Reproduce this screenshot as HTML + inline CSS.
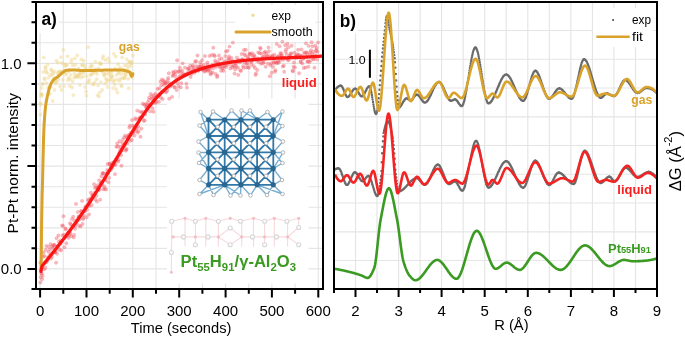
<!DOCTYPE html><html><head><meta charset="utf-8"><style>html,body{margin:0;padding:0;background:#fff;}body{width:685px;height:337px;overflow:hidden;position:relative;font-family:"Liberation Sans",sans-serif;}</style></head><body><svg width="685" height="337" viewBox="0 0 685 337" style="position:absolute;left:0;top:0;will-change:transform">
<rect width="685" height="337" fill="#fff"/>
<path d="M40.1 3V288M63.3 3V288M86.5 3V288M109.7 3V288M132.8 3V288M156.0 3V288M179.2 3V288M202.4 3V288M225.6 3V288M248.8 3V288M271.9 3V288M295.1 3V288M318.3 3V288M37 268.9H322M37 248.3H322M37 227.8H322M37 207.2H322M37 186.7H322M37 166.1H322M37 145.5H322M37 125.0H322M37 104.4H322M37 83.9H322M37 63.3H322M37 42.7H322M37 22.2H322M355.5 3V288M377.0 3V288M398.6 3V288M420.1 3V288M441.6 3V288M463.2 3V288M484.7 3V288M506.2 3V288M527.8 3V288M549.3 3V288M570.9 3V288M592.4 3V288M613.9 3V288M635.5 3V288M335 30.5H656M335 59.2H656M335 88.0H656M335 116.8H656M335 145.5H656M335 174.2H656M335 203.0H656M335 231.8H656M335 260.5H656" stroke="#e5e5e5" stroke-width="1.15" fill="none"/>
<g fill="#fff">
<rect x="37" y="3" width="22" height="30"/>
<rect x="235" y="5" width="80" height="37"/>
<rect x="167" y="98.5" width="141.5" height="185"/>
<rect x="335.5" y="3" width="22.5" height="30.5"/>
<rect x="593" y="8" width="60" height="39"/>
</g>
<path d="M200.5 112L208.5 119.7M200.5 112L208.5 136.0M213 111.5L208.5 119.7M213 111.5L224.7 119.7M231.5 110.5L224.7 119.7M231.5 110.5L240.9 119.7M241.5 110.5L240.9 119.7M241.5 110.5L257.1 119.7M250 110.5L257.1 119.7M250 110.5L240.9 119.7M267.5 112L273.3 119.7M267.5 112L257.1 119.7M282.5 111.5L273.3 119.7M282.5 111.5L273.3 136.0M199.5 125.5L208.5 119.7M199.5 125.5L208.5 136.0M198.5 141.5L208.5 136.0M198.5 141.5L208.5 152.3M198.5 152.5L208.5 152.3M198.5 152.5L208.5 168.6M199 163L208.5 168.6M199 163L208.5 152.3M199.5 180L208.5 184.9M199.5 180L208.5 168.6M199.5 194L208.5 184.9M199.5 194L224.7 184.9M213.5 195L208.5 184.9M213.5 195L224.7 184.9M230.5 195.5L224.7 184.9M230.5 195.5L240.9 184.9M240.5 195.5L240.9 184.9M240.5 195.5L224.7 184.9M250.5 195.5L257.1 184.9M250.5 195.5L240.9 184.9M267 195L273.3 184.9M267 195L257.1 184.9M282.5 194L273.3 184.9M282.5 194L257.1 184.9M282.5 126L273.3 119.7M282.5 126L273.3 136.0M283 141.5L273.3 136.0M283 141.5L273.3 152.3M283 152.5L273.3 152.3M283 152.5L273.3 168.6M282.5 163L273.3 168.6M282.5 163L273.3 152.3M282 180L273.3 184.9M282 180L273.3 168.6" stroke="#78aed2" stroke-width="1.4" fill="none"/>
<path d="M208.5 119.7H273.3M208.5 119.7V184.9M208.5 136.0H273.3M224.7 119.7V184.9M208.5 152.3H273.3M240.9 119.7V184.9M208.5 168.6H273.3M257.1 119.7V184.9M208.5 184.9H273.3M273.3 119.7V184.9M208.5 119.7L224.7 136.0M224.7 119.7L208.5 136.0M208.5 136.0L224.7 152.3M224.7 136.0L208.5 152.3M208.5 152.3L224.7 168.6M224.7 152.3L208.5 168.6M208.5 168.6L224.7 184.9M224.7 168.6L208.5 184.9M224.7 119.7L240.9 136.0M240.9 119.7L224.7 136.0M224.7 136.0L240.9 152.3M240.9 136.0L224.7 152.3M224.7 152.3L240.9 168.6M240.9 152.3L224.7 168.6M224.7 168.6L240.9 184.9M240.9 168.6L224.7 184.9M240.9 119.7L257.1 136.0M257.1 119.7L240.9 136.0M240.9 136.0L257.1 152.3M257.1 136.0L240.9 152.3M240.9 152.3L257.1 168.6M257.1 152.3L240.9 168.6M240.9 168.6L257.1 184.9M257.1 168.6L240.9 184.9M257.1 119.7L273.3 136.0M273.3 119.7L257.1 136.0M257.1 136.0L273.3 152.3M273.3 136.0L257.1 152.3M257.1 152.3L273.3 168.6M273.3 152.3L257.1 168.6M257.1 168.6L273.3 184.9M273.3 168.6L257.1 184.9" stroke="#3278a8" stroke-width="1.8" fill="none"/>
<circle cx="200.5" cy="112" r="1.8" fill="#fff" stroke="#a4a4a4" stroke-width="0.8"/>
<circle cx="213" cy="111.5" r="1.8" fill="#fff" stroke="#a4a4a4" stroke-width="0.8"/>
<circle cx="231.5" cy="110.5" r="1.8" fill="#fff" stroke="#a4a4a4" stroke-width="0.8"/>
<circle cx="241.5" cy="110.5" r="1.8" fill="#fff" stroke="#a4a4a4" stroke-width="0.8"/>
<circle cx="250" cy="110.5" r="1.8" fill="#fff" stroke="#a4a4a4" stroke-width="0.8"/>
<circle cx="267.5" cy="112" r="1.8" fill="#fff" stroke="#a4a4a4" stroke-width="0.8"/>
<circle cx="282.5" cy="111.5" r="1.8" fill="#fff" stroke="#a4a4a4" stroke-width="0.8"/>
<circle cx="199.5" cy="125.5" r="1.8" fill="#fff" stroke="#a4a4a4" stroke-width="0.8"/>
<circle cx="198.5" cy="141.5" r="1.8" fill="#fff" stroke="#a4a4a4" stroke-width="0.8"/>
<circle cx="198.5" cy="152.5" r="1.8" fill="#fff" stroke="#a4a4a4" stroke-width="0.8"/>
<circle cx="199" cy="163" r="1.8" fill="#fff" stroke="#a4a4a4" stroke-width="0.8"/>
<circle cx="199.5" cy="180" r="1.8" fill="#fff" stroke="#a4a4a4" stroke-width="0.8"/>
<circle cx="199.5" cy="194" r="1.8" fill="#fff" stroke="#a4a4a4" stroke-width="0.8"/>
<circle cx="213.5" cy="195" r="1.8" fill="#fff" stroke="#a4a4a4" stroke-width="0.8"/>
<circle cx="230.5" cy="195.5" r="1.8" fill="#fff" stroke="#a4a4a4" stroke-width="0.8"/>
<circle cx="240.5" cy="195.5" r="1.8" fill="#fff" stroke="#a4a4a4" stroke-width="0.8"/>
<circle cx="250.5" cy="195.5" r="1.8" fill="#fff" stroke="#a4a4a4" stroke-width="0.8"/>
<circle cx="267" cy="195" r="1.8" fill="#fff" stroke="#a4a4a4" stroke-width="0.8"/>
<circle cx="282.5" cy="194" r="1.8" fill="#fff" stroke="#a4a4a4" stroke-width="0.8"/>
<circle cx="282.5" cy="126" r="1.8" fill="#fff" stroke="#a4a4a4" stroke-width="0.8"/>
<circle cx="283" cy="141.5" r="1.8" fill="#fff" stroke="#a4a4a4" stroke-width="0.8"/>
<circle cx="283" cy="152.5" r="1.8" fill="#fff" stroke="#a4a4a4" stroke-width="0.8"/>
<circle cx="282.5" cy="163" r="1.8" fill="#fff" stroke="#a4a4a4" stroke-width="0.8"/>
<circle cx="282" cy="180" r="1.8" fill="#fff" stroke="#a4a4a4" stroke-width="0.8"/>
<circle cx="217.6" cy="126.8" r="1.8" fill="#fff" stroke="#a4a4a4" stroke-width="0.8"/>
<circle cx="217.6" cy="143.2" r="1.8" fill="#fff" stroke="#a4a4a4" stroke-width="0.8"/>
<circle cx="217.6" cy="159.4" r="1.8" fill="#fff" stroke="#a4a4a4" stroke-width="0.8"/>
<circle cx="217.6" cy="175.8" r="1.8" fill="#fff" stroke="#a4a4a4" stroke-width="0.8"/>
<circle cx="233.8" cy="126.8" r="1.8" fill="#fff" stroke="#a4a4a4" stroke-width="0.8"/>
<circle cx="233.8" cy="143.2" r="1.8" fill="#fff" stroke="#a4a4a4" stroke-width="0.8"/>
<circle cx="233.8" cy="159.4" r="1.8" fill="#fff" stroke="#a4a4a4" stroke-width="0.8"/>
<circle cx="233.8" cy="175.8" r="1.8" fill="#fff" stroke="#a4a4a4" stroke-width="0.8"/>
<circle cx="250.0" cy="126.8" r="1.8" fill="#fff" stroke="#a4a4a4" stroke-width="0.8"/>
<circle cx="250.0" cy="143.2" r="1.8" fill="#fff" stroke="#a4a4a4" stroke-width="0.8"/>
<circle cx="250.0" cy="159.4" r="1.8" fill="#fff" stroke="#a4a4a4" stroke-width="0.8"/>
<circle cx="250.0" cy="175.8" r="1.8" fill="#fff" stroke="#a4a4a4" stroke-width="0.8"/>
<circle cx="266.2" cy="126.8" r="1.8" fill="#fff" stroke="#a4a4a4" stroke-width="0.8"/>
<circle cx="266.2" cy="143.2" r="1.8" fill="#fff" stroke="#a4a4a4" stroke-width="0.8"/>
<circle cx="266.2" cy="159.4" r="1.8" fill="#fff" stroke="#a4a4a4" stroke-width="0.8"/>
<circle cx="266.2" cy="175.8" r="1.8" fill="#fff" stroke="#a4a4a4" stroke-width="0.8"/>
<circle cx="208.5" cy="119.7" r="2.3" fill="#2a6892" stroke="#22587e" stroke-width="0.5"/>
<circle cx="208.5" cy="136.0" r="2.3" fill="#2a6892" stroke="#22587e" stroke-width="0.5"/>
<circle cx="208.5" cy="152.3" r="2.3" fill="#2a6892" stroke="#22587e" stroke-width="0.5"/>
<circle cx="208.5" cy="168.6" r="2.3" fill="#2a6892" stroke="#22587e" stroke-width="0.5"/>
<circle cx="208.5" cy="184.9" r="2.3" fill="#2a6892" stroke="#22587e" stroke-width="0.5"/>
<circle cx="224.7" cy="119.7" r="2.3" fill="#2a6892" stroke="#22587e" stroke-width="0.5"/>
<circle cx="224.7" cy="136.0" r="2.3" fill="#2a6892" stroke="#22587e" stroke-width="0.5"/>
<circle cx="224.7" cy="152.3" r="2.3" fill="#2a6892" stroke="#22587e" stroke-width="0.5"/>
<circle cx="224.7" cy="168.6" r="2.3" fill="#2a6892" stroke="#22587e" stroke-width="0.5"/>
<circle cx="224.7" cy="184.9" r="2.3" fill="#2a6892" stroke="#22587e" stroke-width="0.5"/>
<circle cx="240.9" cy="119.7" r="2.3" fill="#2a6892" stroke="#22587e" stroke-width="0.5"/>
<circle cx="240.9" cy="136.0" r="2.3" fill="#2a6892" stroke="#22587e" stroke-width="0.5"/>
<circle cx="240.9" cy="152.3" r="2.3" fill="#2a6892" stroke="#22587e" stroke-width="0.5"/>
<circle cx="240.9" cy="168.6" r="2.3" fill="#2a6892" stroke="#22587e" stroke-width="0.5"/>
<circle cx="240.9" cy="184.9" r="2.3" fill="#2a6892" stroke="#22587e" stroke-width="0.5"/>
<circle cx="257.1" cy="119.7" r="2.3" fill="#2a6892" stroke="#22587e" stroke-width="0.5"/>
<circle cx="257.1" cy="136.0" r="2.3" fill="#2a6892" stroke="#22587e" stroke-width="0.5"/>
<circle cx="257.1" cy="152.3" r="2.3" fill="#2a6892" stroke="#22587e" stroke-width="0.5"/>
<circle cx="257.1" cy="168.6" r="2.3" fill="#2a6892" stroke="#22587e" stroke-width="0.5"/>
<circle cx="257.1" cy="184.9" r="2.3" fill="#2a6892" stroke="#22587e" stroke-width="0.5"/>
<circle cx="273.3" cy="119.7" r="2.3" fill="#2a6892" stroke="#22587e" stroke-width="0.5"/>
<circle cx="273.3" cy="136.0" r="2.3" fill="#2a6892" stroke="#22587e" stroke-width="0.5"/>
<circle cx="273.3" cy="152.3" r="2.3" fill="#2a6892" stroke="#22587e" stroke-width="0.5"/>
<circle cx="273.3" cy="168.6" r="2.3" fill="#2a6892" stroke="#22587e" stroke-width="0.5"/>
<circle cx="273.3" cy="184.9" r="2.3" fill="#2a6892" stroke="#22587e" stroke-width="0.5"/>
<path d="M171.7 221.3L185 218.3M185 218.3L195.4 221.3M195.4 221.3L205.8 218.3M205.8 218.3L218.4 221.3M218.4 221.3L230.2 218.3M230.2 218.3L240.5 221.3M240.5 221.3L253.5 218.3M253.5 218.3L264.6 221.3M264.6 221.3L274.3 218.3M274.3 218.3L286.9 221.3M286.9 221.3L298.7 218.3M173.2 236.9L183.5 236.9M183.5 236.9L195.4 236.9M195.4 236.9L208 236.9M208 236.9L218.4 236.9M241.7 236.9L252.5 236.9M252.5 236.9L264.6 236.9M264.6 236.9L276.5 236.9M276.5 236.9L287.6 236.9M171.7 219V246.5M185 219V246.5M195.4 219V246.5M205.8 219V246.5M218.4 219V246.5M241.7 219V246.5M253.5 219V246.5M264.6 219V246.5M274.3 219V246.5M287.6 219V246.5M218.4 236.9L230.2 228L241.7 236.9L230.2 244.7ZM171.4 246V272M287.6 236.9L298.7 227.5M287.6 236.9L298.7 244.7M298.7 218.3V227.5" stroke="#f7d9dc" stroke-width="1.1" fill="none"/>
<circle cx="185" cy="218.3" r="1.6" fill="#f2bfc4"/>
<circle cx="205.8" cy="218.3" r="1.6" fill="#f2bfc4"/>
<circle cx="230.2" cy="218.3" r="1.6" fill="#f2bfc4"/>
<circle cx="253.5" cy="218.3" r="1.6" fill="#f2bfc4"/>
<circle cx="274.3" cy="218.3" r="1.6" fill="#f2bfc4"/>
<circle cx="298.7" cy="218.3" r="1.6" fill="#f2bfc4"/>
<circle cx="173.2" cy="236.9" r="1.6" fill="#f2bfc4"/>
<circle cx="195.4" cy="236.9" r="1.6" fill="#f2bfc4"/>
<circle cx="218.4" cy="236.9" r="1.6" fill="#f2bfc4"/>
<circle cx="241.7" cy="236.9" r="1.6" fill="#f2bfc4"/>
<circle cx="264.6" cy="236.9" r="1.6" fill="#f2bfc4"/>
<circle cx="287.6" cy="236.9" r="1.6" fill="#f2bfc4"/>
<circle cx="171.4" cy="272.3" r="1.5" fill="#f2bfc4"/>
<circle cx="171.7" cy="221.3" r="2" fill="#fff" stroke="#d6d6d6" stroke-width="1.1"/>
<circle cx="195.4" cy="221.3" r="2" fill="#fff" stroke="#d6d6d6" stroke-width="1.1"/>
<circle cx="218.4" cy="221.3" r="2" fill="#fff" stroke="#d6d6d6" stroke-width="1.1"/>
<circle cx="240.5" cy="221.3" r="2" fill="#fff" stroke="#d6d6d6" stroke-width="1.1"/>
<circle cx="264.6" cy="221.3" r="2" fill="#fff" stroke="#d6d6d6" stroke-width="1.1"/>
<circle cx="286.9" cy="221.3" r="2" fill="#fff" stroke="#d6d6d6" stroke-width="1.1"/>
<circle cx="183.5" cy="236.9" r="2" fill="#fff" stroke="#d6d6d6" stroke-width="1.1"/>
<circle cx="208" cy="236.9" r="2" fill="#fff" stroke="#d6d6d6" stroke-width="1.1"/>
<circle cx="252.5" cy="236.9" r="2" fill="#fff" stroke="#d6d6d6" stroke-width="1.1"/>
<circle cx="276.5" cy="236.9" r="2" fill="#fff" stroke="#d6d6d6" stroke-width="1.1"/>
<circle cx="230.2" cy="228" r="2" fill="#fff" stroke="#d6d6d6" stroke-width="1.1"/>
<circle cx="230.2" cy="244.7" r="2" fill="#fff" stroke="#d6d6d6" stroke-width="1.1"/>
<circle cx="298.7" cy="227.5" r="2" fill="#fff" stroke="#d6d6d6" stroke-width="1.1"/>
<circle cx="298.7" cy="244.7" r="2" fill="#fff" stroke="#d6d6d6" stroke-width="1.1"/>
<circle cx="195.4" cy="244.7" r="2" fill="#fff" stroke="#d6d6d6" stroke-width="1.1"/>
<circle cx="264.6" cy="244.7" r="2" fill="#fff" stroke="#d6d6d6" stroke-width="1.1"/>
<circle cx="171.4" cy="252.5" r="2" fill="#fff" stroke="#d6d6d6" stroke-width="1.1"/>
<g fill="#eed68c" fill-opacity="0.48"><circle cx="40.6" cy="103.4" r="1.9"/><circle cx="41.0" cy="93.8" r="1.9"/><circle cx="41.5" cy="94.2" r="1.9"/><circle cx="42.0" cy="95.0" r="1.9"/><circle cx="42.4" cy="83.9" r="1.9"/><circle cx="42.9" cy="83.8" r="1.9"/><circle cx="43.3" cy="71.9" r="1.9"/><circle cx="43.8" cy="57.4" r="1.9"/><circle cx="44.3" cy="78.1" r="1.9"/><circle cx="44.7" cy="79.6" r="1.9"/><circle cx="45.2" cy="67.0" r="1.9"/><circle cx="45.7" cy="68.5" r="1.9"/><circle cx="46.1" cy="71.4" r="1.9"/><circle cx="46.6" cy="83.1" r="1.9"/><circle cx="47.1" cy="72.9" r="1.9"/><circle cx="47.5" cy="64.7" r="1.9"/><circle cx="48.0" cy="87.8" r="1.9"/><circle cx="48.4" cy="77.7" r="1.9"/><circle cx="48.9" cy="94.1" r="1.9"/><circle cx="49.4" cy="87.1" r="1.9"/><circle cx="49.8" cy="93.4" r="1.9"/><circle cx="50.3" cy="75.2" r="1.9"/><circle cx="50.8" cy="86.9" r="1.9"/><circle cx="51.2" cy="69.5" r="1.9"/><circle cx="51.7" cy="70.8" r="1.9"/><circle cx="52.2" cy="74.7" r="1.9"/><circle cx="52.6" cy="101.0" r="1.9"/><circle cx="53.1" cy="78.6" r="1.9"/><circle cx="53.5" cy="73.1" r="1.9"/><circle cx="54.0" cy="71.3" r="1.9"/><circle cx="54.5" cy="89.9" r="1.9"/><circle cx="54.9" cy="78.0" r="1.9"/><circle cx="55.4" cy="83.6" r="1.9"/><circle cx="55.9" cy="81.7" r="1.9"/><circle cx="56.3" cy="60.6" r="1.9"/><circle cx="56.8" cy="81.7" r="1.9"/><circle cx="57.3" cy="72.9" r="1.9"/><circle cx="57.7" cy="62.6" r="1.9"/><circle cx="58.2" cy="79.2" r="1.9"/><circle cx="58.6" cy="73.8" r="1.9"/><circle cx="59.1" cy="71.3" r="1.9"/><circle cx="59.6" cy="71.8" r="1.9"/><circle cx="60.0" cy="86.4" r="1.9"/><circle cx="60.5" cy="71.7" r="1.9"/><circle cx="61.0" cy="57.2" r="1.9"/><circle cx="61.4" cy="90.0" r="1.9"/><circle cx="61.9" cy="62.8" r="1.9"/><circle cx="62.4" cy="71.2" r="1.9"/><circle cx="62.8" cy="79.8" r="1.9"/><circle cx="63.3" cy="49.9" r="1.9"/><circle cx="63.7" cy="63.9" r="1.9"/><circle cx="64.2" cy="86.1" r="1.9"/><circle cx="64.7" cy="71.7" r="1.9"/><circle cx="65.1" cy="66.0" r="1.9"/><circle cx="65.6" cy="74.7" r="1.9"/><circle cx="66.1" cy="64.8" r="1.9"/><circle cx="66.5" cy="73.3" r="1.9"/><circle cx="67.0" cy="65.0" r="1.9"/><circle cx="67.5" cy="56.3" r="1.9"/><circle cx="67.9" cy="80.2" r="1.9"/><circle cx="68.4" cy="70.3" r="1.9"/><circle cx="68.8" cy="77.8" r="1.9"/><circle cx="69.3" cy="71.1" r="1.9"/><circle cx="69.8" cy="86.0" r="1.9"/><circle cx="70.2" cy="79.1" r="1.9"/><circle cx="70.7" cy="74.8" r="1.9"/><circle cx="71.2" cy="62.4" r="1.9"/><circle cx="71.6" cy="59.6" r="1.9"/><circle cx="72.1" cy="87.5" r="1.9"/><circle cx="72.6" cy="81.5" r="1.9"/><circle cx="73.0" cy="65.2" r="1.9"/><circle cx="73.5" cy="95.1" r="1.9"/><circle cx="74.0" cy="77.8" r="1.9"/><circle cx="74.4" cy="73.7" r="1.9"/><circle cx="74.9" cy="58.3" r="1.9"/><circle cx="75.3" cy="64.8" r="1.9"/><circle cx="75.8" cy="76.3" r="1.9"/><circle cx="76.3" cy="76.7" r="1.9"/><circle cx="76.7" cy="75.4" r="1.9"/><circle cx="77.2" cy="55.3" r="1.9"/><circle cx="77.7" cy="77.4" r="1.9"/><circle cx="78.1" cy="76.0" r="1.9"/><circle cx="78.6" cy="68.6" r="1.9"/><circle cx="79.1" cy="73.9" r="1.9"/><circle cx="79.5" cy="74.8" r="1.9"/><circle cx="80.0" cy="85.1" r="1.9"/><circle cx="80.4" cy="72.7" r="1.9"/><circle cx="80.9" cy="77.6" r="1.9"/><circle cx="81.4" cy="59.4" r="1.9"/><circle cx="81.8" cy="65.2" r="1.9"/><circle cx="82.3" cy="72.8" r="1.9"/><circle cx="82.8" cy="65.0" r="1.9"/><circle cx="83.2" cy="76.4" r="1.9"/><circle cx="83.7" cy="60.7" r="1.9"/><circle cx="84.2" cy="72.6" r="1.9"/><circle cx="84.6" cy="66.0" r="1.9"/><circle cx="85.1" cy="87.1" r="1.9"/><circle cx="85.5" cy="68.6" r="1.9"/><circle cx="86.0" cy="91.6" r="1.9"/><circle cx="86.5" cy="95.6" r="1.9"/><circle cx="86.9" cy="76.0" r="1.9"/><circle cx="87.4" cy="82.7" r="1.9"/><circle cx="87.9" cy="70.7" r="1.9"/><circle cx="88.3" cy="47.2" r="1.9"/><circle cx="88.8" cy="82.0" r="1.9"/><circle cx="89.3" cy="79.6" r="1.9"/><circle cx="89.7" cy="70.2" r="1.9"/><circle cx="90.2" cy="67.0" r="1.9"/><circle cx="90.6" cy="74.5" r="1.9"/><circle cx="91.1" cy="74.9" r="1.9"/><circle cx="91.6" cy="64.6" r="1.9"/><circle cx="92.0" cy="66.7" r="1.9"/><circle cx="92.5" cy="84.2" r="1.9"/><circle cx="93.0" cy="73.4" r="1.9"/><circle cx="93.4" cy="72.2" r="1.9"/><circle cx="93.9" cy="84.5" r="1.9"/><circle cx="94.4" cy="69.6" r="1.9"/><circle cx="94.8" cy="82.3" r="1.9"/><circle cx="95.3" cy="61.6" r="1.9"/><circle cx="95.7" cy="70.4" r="1.9"/><circle cx="96.2" cy="71.5" r="1.9"/><circle cx="96.7" cy="79.2" r="1.9"/><circle cx="97.1" cy="73.9" r="1.9"/><circle cx="97.6" cy="95.1" r="1.9"/><circle cx="98.1" cy="85.3" r="1.9"/><circle cx="98.5" cy="68.4" r="1.9"/><circle cx="99.0" cy="96.6" r="1.9"/><circle cx="99.5" cy="63.0" r="1.9"/><circle cx="99.9" cy="92.3" r="1.9"/><circle cx="100.4" cy="64.0" r="1.9"/><circle cx="100.8" cy="82.1" r="1.9"/><circle cx="101.3" cy="63.7" r="1.9"/><circle cx="101.8" cy="71.1" r="1.9"/><circle cx="102.2" cy="89.9" r="1.9"/><circle cx="102.7" cy="58.4" r="1.9"/><circle cx="103.2" cy="56.2" r="1.9"/><circle cx="103.6" cy="73.3" r="1.9"/><circle cx="104.1" cy="75.6" r="1.9"/><circle cx="104.6" cy="74.4" r="1.9"/><circle cx="105.0" cy="83.6" r="1.9"/><circle cx="105.5" cy="60.1" r="1.9"/><circle cx="105.9" cy="78.7" r="1.9"/><circle cx="106.4" cy="73.1" r="1.9"/><circle cx="106.9" cy="81.5" r="1.9"/><circle cx="107.3" cy="79.6" r="1.9"/><circle cx="107.8" cy="87.0" r="1.9"/><circle cx="108.3" cy="58.3" r="1.9"/><circle cx="108.7" cy="74.3" r="1.9"/><circle cx="109.2" cy="61.6" r="1.9"/><circle cx="109.7" cy="72.4" r="1.9"/><circle cx="110.1" cy="80.4" r="1.9"/><circle cx="110.6" cy="76.2" r="1.9"/><circle cx="111.0" cy="78.9" r="1.9"/><circle cx="111.5" cy="72.5" r="1.9"/><circle cx="112.0" cy="76.8" r="1.9"/><circle cx="112.4" cy="75.9" r="1.9"/><circle cx="112.9" cy="88.1" r="1.9"/><circle cx="113.4" cy="81.7" r="1.9"/><circle cx="113.8" cy="53.8" r="1.9"/><circle cx="114.3" cy="80.1" r="1.9"/><circle cx="114.8" cy="84.5" r="1.9"/><circle cx="115.2" cy="68.7" r="1.9"/><circle cx="115.7" cy="56.6" r="1.9"/><circle cx="116.1" cy="89.0" r="1.9"/><circle cx="116.6" cy="74.9" r="1.9"/><circle cx="117.1" cy="79.7" r="1.9"/><circle cx="117.5" cy="92.5" r="1.9"/><circle cx="118.0" cy="64.2" r="1.9"/><circle cx="118.5" cy="72.8" r="1.9"/><circle cx="118.9" cy="71.7" r="1.9"/><circle cx="119.4" cy="81.1" r="1.9"/><circle cx="119.9" cy="67.4" r="1.9"/><circle cx="120.3" cy="78.7" r="1.9"/><circle cx="120.8" cy="74.2" r="1.9"/><circle cx="121.2" cy="85.1" r="1.9"/><circle cx="121.7" cy="86.3" r="1.9"/><circle cx="122.2" cy="57.4" r="1.9"/><circle cx="122.6" cy="78.3" r="1.9"/><circle cx="123.1" cy="69.3" r="1.9"/><circle cx="123.6" cy="72.9" r="1.9"/><circle cx="124.0" cy="77.5" r="1.9"/><circle cx="124.5" cy="78.3" r="1.9"/><circle cx="125.0" cy="65.4" r="1.9"/><circle cx="125.4" cy="76.0" r="1.9"/><circle cx="125.9" cy="74.3" r="1.9"/><circle cx="126.3" cy="72.3" r="1.9"/><circle cx="126.8" cy="59.2" r="1.9"/><circle cx="127.3" cy="64.9" r="1.9"/><circle cx="127.7" cy="68.2" r="1.9"/><circle cx="128.2" cy="78.9" r="1.9"/><circle cx="128.7" cy="88.2" r="1.9"/><circle cx="129.1" cy="61.8" r="1.9"/><circle cx="129.6" cy="61.6" r="1.9"/><circle cx="130.1" cy="74.1" r="1.9"/><circle cx="130.5" cy="66.4" r="1.9"/><circle cx="131.0" cy="63.7" r="1.9"/><circle cx="131.4" cy="63.2" r="1.9"/><circle cx="131.9" cy="62.1" r="1.9"/><circle cx="132.4" cy="77.7" r="1.9"/><circle cx="132.8" cy="55.4" r="1.9"/><circle cx="40.6" cy="104.4" r="1.9"/><circle cx="41.0" cy="96.2" r="1.9"/><circle cx="41.5" cy="88.0" r="1.9"/><circle cx="40.3" cy="114.7" r="1.9"/></g>
<g fill="#f05a66" fill-opacity="0.42" stroke="#e84452" stroke-opacity="0.3" stroke-width="0.5"><circle cx="40.3" cy="262.6" r="1.7"/><circle cx="40.8" cy="277.3" r="1.7"/><circle cx="41.3" cy="273.1" r="1.7"/><circle cx="41.7" cy="273.8" r="1.7"/><circle cx="42.2" cy="279.2" r="1.7"/><circle cx="42.7" cy="275.8" r="1.7"/><circle cx="43.1" cy="256.8" r="1.7"/><circle cx="43.6" cy="252.4" r="1.7"/><circle cx="44.0" cy="269.4" r="1.7"/><circle cx="44.5" cy="256.0" r="1.7"/><circle cx="45.0" cy="262.4" r="1.7"/><circle cx="45.4" cy="267.8" r="1.7"/><circle cx="45.9" cy="249.9" r="1.7"/><circle cx="46.4" cy="246.0" r="1.7"/><circle cx="46.8" cy="262.0" r="1.7"/><circle cx="47.3" cy="260.0" r="1.7"/><circle cx="47.8" cy="257.4" r="1.7"/><circle cx="48.2" cy="258.8" r="1.7"/><circle cx="48.7" cy="251.9" r="1.7"/><circle cx="49.1" cy="246.8" r="1.7"/><circle cx="49.6" cy="255.6" r="1.7"/><circle cx="50.1" cy="249.4" r="1.7"/><circle cx="50.5" cy="244.1" r="1.7"/><circle cx="51.0" cy="258.6" r="1.7"/><circle cx="51.5" cy="254.0" r="1.7"/><circle cx="51.9" cy="256.7" r="1.7"/><circle cx="52.4" cy="246.4" r="1.7"/><circle cx="52.9" cy="248.1" r="1.7"/><circle cx="53.3" cy="245.1" r="1.7"/><circle cx="53.8" cy="245.3" r="1.7"/><circle cx="54.2" cy="252.3" r="1.7"/><circle cx="54.7" cy="244.9" r="1.7"/><circle cx="55.2" cy="252.3" r="1.7"/><circle cx="55.6" cy="251.6" r="1.7"/><circle cx="56.1" cy="262.8" r="1.7"/><circle cx="56.6" cy="238.3" r="1.7"/><circle cx="57.0" cy="253.7" r="1.7"/><circle cx="57.5" cy="246.2" r="1.7"/><circle cx="58.0" cy="246.2" r="1.7"/><circle cx="58.4" cy="235.5" r="1.7"/><circle cx="58.9" cy="241.8" r="1.7"/><circle cx="59.3" cy="249.7" r="1.7"/><circle cx="59.8" cy="243.3" r="1.7"/><circle cx="60.3" cy="243.8" r="1.7"/><circle cx="60.7" cy="240.6" r="1.7"/><circle cx="61.2" cy="250.2" r="1.7"/><circle cx="61.7" cy="241.3" r="1.7"/><circle cx="62.1" cy="225.5" r="1.7"/><circle cx="62.6" cy="235.4" r="1.7"/><circle cx="63.1" cy="225.9" r="1.7"/><circle cx="63.5" cy="216.3" r="1.7"/><circle cx="64.0" cy="234.7" r="1.7"/><circle cx="64.4" cy="247.2" r="1.7"/><circle cx="64.9" cy="237.6" r="1.7"/><circle cx="65.4" cy="228.4" r="1.7"/><circle cx="65.8" cy="229.4" r="1.7"/><circle cx="66.3" cy="243.3" r="1.7"/><circle cx="66.8" cy="235.9" r="1.7"/><circle cx="67.2" cy="234.5" r="1.7"/><circle cx="67.7" cy="233.2" r="1.7"/><circle cx="68.2" cy="233.2" r="1.7"/><circle cx="68.6" cy="237.9" r="1.7"/><circle cx="69.1" cy="235.5" r="1.7"/><circle cx="69.5" cy="232.6" r="1.7"/><circle cx="70.0" cy="223.1" r="1.7"/><circle cx="70.5" cy="233.4" r="1.7"/><circle cx="70.9" cy="224.4" r="1.7"/><circle cx="71.4" cy="236.2" r="1.7"/><circle cx="71.9" cy="219.0" r="1.7"/><circle cx="72.3" cy="226.3" r="1.7"/><circle cx="72.8" cy="226.6" r="1.7"/><circle cx="73.3" cy="216.7" r="1.7"/><circle cx="73.7" cy="237.4" r="1.7"/><circle cx="74.2" cy="234.9" r="1.7"/><circle cx="74.6" cy="220.8" r="1.7"/><circle cx="75.1" cy="228.8" r="1.7"/><circle cx="75.6" cy="225.4" r="1.7"/><circle cx="76.0" cy="203.9" r="1.7"/><circle cx="76.5" cy="223.3" r="1.7"/><circle cx="77.0" cy="220.4" r="1.7"/><circle cx="77.4" cy="220.8" r="1.7"/><circle cx="77.9" cy="212.0" r="1.7"/><circle cx="78.4" cy="217.0" r="1.7"/><circle cx="78.8" cy="217.0" r="1.7"/><circle cx="79.3" cy="225.9" r="1.7"/><circle cx="79.7" cy="219.2" r="1.7"/><circle cx="80.2" cy="216.2" r="1.7"/><circle cx="80.7" cy="226.3" r="1.7"/><circle cx="81.1" cy="211.0" r="1.7"/><circle cx="81.6" cy="211.5" r="1.7"/><circle cx="82.1" cy="200.9" r="1.7"/><circle cx="82.5" cy="223.9" r="1.7"/><circle cx="83.0" cy="219.0" r="1.7"/><circle cx="83.5" cy="218.0" r="1.7"/><circle cx="83.9" cy="215.6" r="1.7"/><circle cx="84.4" cy="211.0" r="1.7"/><circle cx="84.8" cy="211.0" r="1.7"/><circle cx="85.3" cy="207.1" r="1.7"/><circle cx="85.8" cy="206.7" r="1.7"/><circle cx="86.2" cy="207.8" r="1.7"/><circle cx="86.7" cy="217.3" r="1.7"/><circle cx="87.2" cy="209.9" r="1.7"/><circle cx="87.6" cy="205.0" r="1.7"/><circle cx="88.1" cy="200.6" r="1.7"/><circle cx="88.6" cy="199.5" r="1.7"/><circle cx="89.0" cy="214.5" r="1.7"/><circle cx="89.5" cy="206.1" r="1.7"/><circle cx="89.9" cy="202.3" r="1.7"/><circle cx="90.4" cy="198.7" r="1.7"/><circle cx="90.9" cy="192.7" r="1.7"/><circle cx="91.3" cy="199.2" r="1.7"/><circle cx="91.8" cy="205.1" r="1.7"/><circle cx="92.3" cy="195.5" r="1.7"/><circle cx="92.7" cy="196.0" r="1.7"/><circle cx="93.2" cy="195.3" r="1.7"/><circle cx="93.7" cy="196.9" r="1.7"/><circle cx="94.1" cy="184.2" r="1.7"/><circle cx="94.6" cy="193.0" r="1.7"/><circle cx="95.0" cy="187.9" r="1.7"/><circle cx="95.5" cy="199.4" r="1.7"/><circle cx="96.0" cy="187.1" r="1.7"/><circle cx="96.4" cy="195.8" r="1.7"/><circle cx="96.9" cy="201.6" r="1.7"/><circle cx="97.4" cy="188.0" r="1.7"/><circle cx="97.8" cy="185.3" r="1.7"/><circle cx="98.3" cy="190.1" r="1.7"/><circle cx="98.8" cy="188.0" r="1.7"/><circle cx="99.2" cy="180.3" r="1.7"/><circle cx="99.7" cy="189.7" r="1.7"/><circle cx="100.1" cy="199.8" r="1.7"/><circle cx="100.6" cy="183.2" r="1.7"/><circle cx="101.1" cy="182.8" r="1.7"/><circle cx="101.5" cy="176.2" r="1.7"/><circle cx="102.0" cy="184.9" r="1.7"/><circle cx="102.5" cy="173.2" r="1.7"/><circle cx="102.9" cy="173.4" r="1.7"/><circle cx="103.4" cy="189.4" r="1.7"/><circle cx="103.9" cy="173.3" r="1.7"/><circle cx="104.3" cy="186.5" r="1.7"/><circle cx="104.8" cy="188.8" r="1.7"/><circle cx="105.2" cy="179.2" r="1.7"/><circle cx="105.7" cy="180.5" r="1.7"/><circle cx="106.2" cy="189.5" r="1.7"/><circle cx="106.6" cy="173.7" r="1.7"/><circle cx="107.1" cy="170.1" r="1.7"/><circle cx="107.6" cy="164.0" r="1.7"/><circle cx="108.0" cy="173.0" r="1.7"/><circle cx="108.5" cy="182.3" r="1.7"/><circle cx="109.0" cy="177.9" r="1.7"/><circle cx="109.4" cy="163.8" r="1.7"/><circle cx="109.9" cy="163.6" r="1.7"/><circle cx="110.4" cy="165.3" r="1.7"/><circle cx="110.8" cy="170.1" r="1.7"/><circle cx="111.3" cy="165.8" r="1.7"/><circle cx="111.7" cy="168.0" r="1.7"/><circle cx="112.2" cy="167.8" r="1.7"/><circle cx="112.7" cy="162.8" r="1.7"/><circle cx="113.1" cy="163.9" r="1.7"/><circle cx="113.6" cy="164.8" r="1.7"/><circle cx="114.1" cy="162.0" r="1.7"/><circle cx="114.5" cy="165.3" r="1.7"/><circle cx="115.0" cy="174.1" r="1.7"/><circle cx="115.5" cy="164.4" r="1.7"/><circle cx="115.9" cy="159.8" r="1.7"/><circle cx="116.4" cy="146.8" r="1.7"/><circle cx="116.8" cy="160.6" r="1.7"/><circle cx="117.3" cy="143.4" r="1.7"/><circle cx="117.8" cy="146.4" r="1.7"/><circle cx="118.2" cy="161.5" r="1.7"/><circle cx="118.7" cy="159.6" r="1.7"/><circle cx="119.2" cy="152.9" r="1.7"/><circle cx="119.6" cy="141.2" r="1.7"/><circle cx="120.1" cy="149.7" r="1.7"/><circle cx="120.6" cy="146.8" r="1.7"/><circle cx="121.0" cy="155.2" r="1.7"/><circle cx="121.5" cy="165.8" r="1.7"/><circle cx="121.9" cy="150.7" r="1.7"/><circle cx="122.4" cy="142.9" r="1.7"/><circle cx="122.9" cy="139.4" r="1.7"/><circle cx="123.3" cy="146.4" r="1.7"/><circle cx="123.8" cy="144.8" r="1.7"/><circle cx="124.3" cy="137.2" r="1.7"/><circle cx="124.7" cy="145.3" r="1.7"/><circle cx="125.2" cy="135.6" r="1.7"/><circle cx="125.7" cy="150.7" r="1.7"/><circle cx="126.1" cy="149.6" r="1.7"/><circle cx="126.6" cy="148.9" r="1.7"/><circle cx="127.0" cy="137.2" r="1.7"/><circle cx="127.5" cy="143.4" r="1.7"/><circle cx="128.0" cy="138.1" r="1.7"/><circle cx="128.4" cy="135.5" r="1.7"/><circle cx="128.9" cy="135.1" r="1.7"/><circle cx="129.4" cy="127.6" r="1.7"/><circle cx="129.8" cy="125.8" r="1.7"/><circle cx="130.3" cy="140.7" r="1.7"/><circle cx="130.8" cy="133.0" r="1.7"/><circle cx="131.2" cy="135.1" r="1.7"/><circle cx="131.7" cy="139.9" r="1.7"/><circle cx="132.1" cy="120.0" r="1.7"/><circle cx="132.6" cy="125.8" r="1.7"/><circle cx="133.1" cy="131.8" r="1.7"/><circle cx="133.5" cy="132.6" r="1.7"/><circle cx="134.0" cy="126.4" r="1.7"/><circle cx="134.5" cy="135.5" r="1.7"/><circle cx="134.9" cy="129.0" r="1.7"/><circle cx="135.4" cy="118.3" r="1.7"/><circle cx="135.9" cy="119.6" r="1.7"/><circle cx="136.3" cy="131.0" r="1.7"/><circle cx="136.8" cy="127.9" r="1.7"/><circle cx="137.2" cy="110.6" r="1.7"/><circle cx="137.7" cy="132.6" r="1.7"/><circle cx="138.2" cy="126.6" r="1.7"/><circle cx="138.6" cy="131.1" r="1.7"/><circle cx="139.1" cy="118.3" r="1.7"/><circle cx="139.6" cy="118.2" r="1.7"/><circle cx="140.0" cy="111.7" r="1.7"/><circle cx="140.5" cy="136.7" r="1.7"/><circle cx="141.0" cy="117.0" r="1.7"/><circle cx="141.4" cy="128.6" r="1.7"/><circle cx="141.9" cy="112.3" r="1.7"/><circle cx="142.3" cy="117.3" r="1.7"/><circle cx="142.8" cy="103.7" r="1.7"/><circle cx="143.3" cy="112.1" r="1.7"/><circle cx="143.7" cy="121.0" r="1.7"/><circle cx="144.2" cy="104.7" r="1.7"/><circle cx="144.7" cy="120.3" r="1.7"/><circle cx="145.1" cy="114.5" r="1.7"/><circle cx="145.6" cy="104.2" r="1.7"/><circle cx="146.1" cy="107.3" r="1.7"/><circle cx="146.5" cy="107.0" r="1.7"/><circle cx="147.0" cy="109.2" r="1.7"/><circle cx="147.4" cy="105.2" r="1.7"/><circle cx="147.9" cy="102.5" r="1.7"/><circle cx="148.4" cy="105.5" r="1.7"/><circle cx="148.8" cy="99.9" r="1.7"/><circle cx="149.3" cy="97.4" r="1.7"/><circle cx="149.8" cy="105.5" r="1.7"/><circle cx="150.2" cy="111.4" r="1.7"/><circle cx="150.7" cy="94.0" r="1.7"/><circle cx="151.2" cy="104.1" r="1.7"/><circle cx="151.6" cy="99.0" r="1.7"/><circle cx="152.1" cy="96.1" r="1.7"/><circle cx="152.5" cy="108.3" r="1.7"/><circle cx="153.0" cy="98.2" r="1.7"/><circle cx="153.5" cy="111.7" r="1.7"/><circle cx="153.9" cy="95.3" r="1.7"/><circle cx="154.4" cy="102.9" r="1.7"/><circle cx="154.9" cy="98.0" r="1.7"/><circle cx="155.3" cy="93.8" r="1.7"/><circle cx="155.8" cy="102.7" r="1.7"/><circle cx="156.3" cy="97.0" r="1.7"/><circle cx="156.7" cy="101.8" r="1.7"/><circle cx="157.2" cy="96.7" r="1.7"/><circle cx="157.6" cy="88.9" r="1.7"/><circle cx="158.1" cy="95.3" r="1.7"/><circle cx="158.6" cy="95.9" r="1.7"/><circle cx="159.0" cy="101.8" r="1.7"/><circle cx="159.5" cy="88.2" r="1.7"/><circle cx="160.0" cy="93.8" r="1.7"/><circle cx="160.4" cy="81.6" r="1.7"/><circle cx="160.9" cy="97.7" r="1.7"/><circle cx="161.4" cy="85.2" r="1.7"/><circle cx="161.8" cy="79.6" r="1.7"/><circle cx="162.3" cy="91.4" r="1.7"/><circle cx="162.7" cy="99.1" r="1.7"/><circle cx="163.2" cy="80.3" r="1.7"/><circle cx="163.7" cy="82.9" r="1.7"/><circle cx="164.1" cy="84.9" r="1.7"/><circle cx="164.6" cy="81.8" r="1.7"/><circle cx="165.1" cy="91.9" r="1.7"/><circle cx="165.5" cy="83.2" r="1.7"/><circle cx="166.0" cy="83.4" r="1.7"/><circle cx="166.5" cy="92.1" r="1.7"/><circle cx="166.9" cy="82.3" r="1.7"/><circle cx="167.4" cy="90.3" r="1.7"/><circle cx="167.8" cy="80.0" r="1.7"/><circle cx="168.3" cy="78.0" r="1.7"/><circle cx="168.8" cy="73.2" r="1.7"/><circle cx="169.2" cy="98.7" r="1.7"/><circle cx="169.7" cy="83.1" r="1.7"/><circle cx="170.2" cy="86.7" r="1.7"/><circle cx="170.6" cy="84.4" r="1.7"/><circle cx="171.1" cy="85.4" r="1.7"/><circle cx="171.6" cy="84.2" r="1.7"/><circle cx="172.0" cy="96.9" r="1.7"/><circle cx="172.5" cy="75.9" r="1.7"/><circle cx="173.0" cy="72.0" r="1.7"/><circle cx="173.4" cy="75.4" r="1.7"/><circle cx="173.9" cy="72.9" r="1.7"/><circle cx="174.3" cy="87.1" r="1.7"/><circle cx="174.8" cy="87.3" r="1.7"/><circle cx="175.3" cy="74.5" r="1.7"/><circle cx="175.7" cy="71.2" r="1.7"/><circle cx="176.2" cy="78.1" r="1.7"/><circle cx="176.7" cy="90.0" r="1.7"/><circle cx="177.1" cy="60.3" r="1.7"/><circle cx="177.6" cy="83.4" r="1.7"/><circle cx="178.1" cy="71.9" r="1.7"/><circle cx="178.5" cy="86.4" r="1.7"/><circle cx="179.0" cy="71.3" r="1.7"/><circle cx="179.4" cy="76.5" r="1.7"/><circle cx="179.9" cy="67.7" r="1.7"/><circle cx="180.4" cy="71.1" r="1.7"/><circle cx="180.8" cy="87.4" r="1.7"/><circle cx="181.3" cy="83.2" r="1.7"/><circle cx="181.8" cy="74.4" r="1.7"/><circle cx="182.2" cy="70.8" r="1.7"/><circle cx="182.7" cy="63.4" r="1.7"/><circle cx="183.2" cy="73.7" r="1.7"/><circle cx="183.6" cy="75.9" r="1.7"/><circle cx="184.1" cy="75.3" r="1.7"/><circle cx="184.5" cy="75.0" r="1.7"/><circle cx="185.0" cy="67.6" r="1.7"/><circle cx="185.5" cy="74.7" r="1.7"/><circle cx="185.9" cy="74.7" r="1.7"/><circle cx="186.4" cy="83.8" r="1.7"/><circle cx="186.9" cy="87.6" r="1.7"/><circle cx="187.3" cy="73.3" r="1.7"/><circle cx="187.8" cy="68.7" r="1.7"/><circle cx="188.3" cy="73.4" r="1.7"/><circle cx="188.7" cy="69.4" r="1.7"/><circle cx="189.2" cy="68.2" r="1.7"/><circle cx="189.6" cy="72.8" r="1.7"/><circle cx="190.1" cy="65.7" r="1.7"/><circle cx="190.6" cy="77.0" r="1.7"/><circle cx="191.0" cy="71.9" r="1.7"/><circle cx="191.5" cy="74.1" r="1.7"/><circle cx="192.0" cy="70.9" r="1.7"/><circle cx="192.4" cy="66.9" r="1.7"/><circle cx="192.9" cy="65.2" r="1.7"/><circle cx="193.4" cy="70.0" r="1.7"/><circle cx="193.8" cy="67.6" r="1.7"/><circle cx="194.3" cy="72.9" r="1.7"/><circle cx="194.7" cy="71.0" r="1.7"/><circle cx="195.2" cy="61.4" r="1.7"/><circle cx="195.7" cy="71.2" r="1.7"/><circle cx="196.1" cy="61.2" r="1.7"/><circle cx="196.6" cy="66.1" r="1.7"/><circle cx="197.1" cy="68.2" r="1.7"/><circle cx="197.5" cy="55.5" r="1.7"/><circle cx="198.0" cy="70.5" r="1.7"/><circle cx="198.5" cy="70.8" r="1.7"/><circle cx="198.9" cy="68.5" r="1.7"/><circle cx="199.4" cy="66.4" r="1.7"/><circle cx="199.8" cy="66.6" r="1.7"/><circle cx="200.3" cy="62.3" r="1.7"/><circle cx="200.8" cy="67.1" r="1.7"/><circle cx="201.2" cy="64.9" r="1.7"/><circle cx="201.7" cy="69.3" r="1.7"/><circle cx="202.2" cy="60.1" r="1.7"/><circle cx="202.6" cy="70.0" r="1.7"/><circle cx="203.1" cy="69.2" r="1.7"/><circle cx="203.6" cy="67.1" r="1.7"/><circle cx="204.0" cy="64.9" r="1.7"/><circle cx="204.5" cy="71.7" r="1.7"/><circle cx="204.9" cy="56.0" r="1.7"/><circle cx="205.4" cy="70.8" r="1.7"/><circle cx="205.9" cy="69.1" r="1.7"/><circle cx="206.3" cy="69.3" r="1.7"/><circle cx="206.8" cy="69.9" r="1.7"/><circle cx="207.3" cy="62.5" r="1.7"/><circle cx="207.7" cy="65.1" r="1.7"/><circle cx="208.2" cy="71.3" r="1.7"/><circle cx="208.7" cy="69.7" r="1.7"/><circle cx="209.1" cy="68.0" r="1.7"/><circle cx="209.6" cy="55.9" r="1.7"/><circle cx="210.0" cy="70.1" r="1.7"/><circle cx="210.5" cy="74.4" r="1.7"/><circle cx="211.0" cy="73.2" r="1.7"/><circle cx="211.4" cy="67.6" r="1.7"/><circle cx="211.9" cy="55.0" r="1.7"/><circle cx="212.4" cy="72.4" r="1.7"/><circle cx="212.8" cy="64.6" r="1.7"/><circle cx="213.3" cy="47.8" r="1.7"/><circle cx="213.8" cy="68.1" r="1.7"/><circle cx="214.2" cy="54.9" r="1.7"/><circle cx="214.7" cy="56.2" r="1.7"/><circle cx="215.1" cy="60.7" r="1.7"/><circle cx="215.6" cy="73.9" r="1.7"/><circle cx="216.1" cy="62.3" r="1.7"/><circle cx="216.5" cy="66.7" r="1.7"/><circle cx="217.0" cy="77.0" r="1.7"/><circle cx="217.5" cy="75.8" r="1.7"/><circle cx="217.9" cy="63.8" r="1.7"/><circle cx="218.4" cy="62.7" r="1.7"/><circle cx="218.9" cy="55.5" r="1.7"/><circle cx="219.3" cy="59.4" r="1.7"/><circle cx="219.8" cy="67.1" r="1.7"/><circle cx="220.2" cy="66.8" r="1.7"/><circle cx="220.7" cy="64.7" r="1.7"/><circle cx="221.2" cy="70.8" r="1.7"/><circle cx="221.6" cy="58.4" r="1.7"/><circle cx="222.1" cy="63.3" r="1.7"/><circle cx="222.6" cy="68.7" r="1.7"/><circle cx="223.0" cy="67.6" r="1.7"/><circle cx="223.5" cy="70.9" r="1.7"/><circle cx="224.0" cy="66.1" r="1.7"/><circle cx="224.4" cy="61.1" r="1.7"/><circle cx="224.9" cy="65.7" r="1.7"/><circle cx="225.3" cy="56.1" r="1.7"/><circle cx="225.8" cy="51.5" r="1.7"/><circle cx="226.3" cy="67.0" r="1.7"/><circle cx="226.7" cy="62.5" r="1.7"/><circle cx="227.2" cy="64.9" r="1.7"/><circle cx="227.7" cy="50.8" r="1.7"/><circle cx="228.1" cy="60.1" r="1.7"/><circle cx="228.6" cy="58.4" r="1.7"/><circle cx="229.1" cy="56.4" r="1.7"/><circle cx="229.5" cy="46.6" r="1.7"/><circle cx="230.0" cy="60.0" r="1.7"/><circle cx="230.4" cy="68.5" r="1.7"/><circle cx="230.9" cy="64.9" r="1.7"/><circle cx="231.4" cy="57.9" r="1.7"/><circle cx="231.8" cy="61.9" r="1.7"/><circle cx="232.3" cy="67.3" r="1.7"/><circle cx="232.8" cy="42.6" r="1.7"/><circle cx="233.2" cy="61.0" r="1.7"/><circle cx="233.7" cy="65.6" r="1.7"/><circle cx="234.2" cy="66.5" r="1.7"/><circle cx="234.6" cy="73.6" r="1.7"/><circle cx="235.1" cy="69.5" r="1.7"/><circle cx="235.5" cy="63.7" r="1.7"/><circle cx="236.0" cy="63.6" r="1.7"/><circle cx="236.5" cy="66.9" r="1.7"/><circle cx="236.9" cy="57.6" r="1.7"/><circle cx="237.4" cy="61.0" r="1.7"/><circle cx="237.9" cy="67.6" r="1.7"/><circle cx="238.3" cy="74.9" r="1.7"/><circle cx="238.8" cy="60.0" r="1.7"/><circle cx="239.3" cy="60.7" r="1.7"/><circle cx="239.7" cy="62.4" r="1.7"/><circle cx="240.2" cy="70.3" r="1.7"/><circle cx="240.7" cy="60.7" r="1.7"/><circle cx="241.1" cy="71.1" r="1.7"/><circle cx="241.6" cy="54.0" r="1.7"/><circle cx="242.0" cy="59.4" r="1.7"/><circle cx="242.5" cy="59.3" r="1.7"/><circle cx="243.0" cy="66.1" r="1.7"/><circle cx="243.4" cy="67.9" r="1.7"/><circle cx="243.9" cy="49.9" r="1.7"/><circle cx="244.4" cy="54.1" r="1.7"/><circle cx="244.8" cy="62.8" r="1.7"/><circle cx="245.3" cy="55.7" r="1.7"/><circle cx="245.8" cy="49.7" r="1.7"/><circle cx="246.2" cy="67.5" r="1.7"/><circle cx="246.7" cy="63.7" r="1.7"/><circle cx="247.1" cy="63.6" r="1.7"/><circle cx="247.6" cy="56.8" r="1.7"/><circle cx="248.1" cy="67.3" r="1.7"/><circle cx="248.5" cy="58.4" r="1.7"/><circle cx="249.0" cy="67.7" r="1.7"/><circle cx="249.5" cy="53.6" r="1.7"/><circle cx="249.9" cy="53.9" r="1.7"/><circle cx="250.4" cy="61.3" r="1.7"/><circle cx="250.9" cy="54.9" r="1.7"/><circle cx="251.3" cy="64.5" r="1.7"/><circle cx="251.8" cy="61.6" r="1.7"/><circle cx="252.2" cy="53.2" r="1.7"/><circle cx="252.7" cy="60.2" r="1.7"/><circle cx="253.2" cy="57.2" r="1.7"/><circle cx="253.6" cy="66.0" r="1.7"/><circle cx="254.1" cy="55.1" r="1.7"/><circle cx="254.6" cy="56.4" r="1.7"/><circle cx="255.0" cy="68.0" r="1.7"/><circle cx="255.5" cy="75.1" r="1.7"/><circle cx="256.0" cy="73.4" r="1.7"/><circle cx="256.4" cy="59.8" r="1.7"/><circle cx="256.9" cy="60.9" r="1.7"/><circle cx="257.3" cy="70.0" r="1.7"/><circle cx="257.8" cy="58.4" r="1.7"/><circle cx="258.3" cy="52.4" r="1.7"/><circle cx="258.7" cy="60.0" r="1.7"/><circle cx="259.2" cy="62.3" r="1.7"/><circle cx="259.7" cy="53.3" r="1.7"/><circle cx="260.1" cy="47.6" r="1.7"/><circle cx="260.6" cy="49.0" r="1.7"/><circle cx="261.1" cy="63.7" r="1.7"/><circle cx="261.5" cy="53.7" r="1.7"/><circle cx="262.0" cy="58.0" r="1.7"/><circle cx="262.4" cy="60.4" r="1.7"/><circle cx="262.9" cy="63.3" r="1.7"/><circle cx="263.4" cy="56.6" r="1.7"/><circle cx="263.8" cy="62.4" r="1.7"/><circle cx="264.3" cy="52.6" r="1.7"/><circle cx="264.8" cy="56.3" r="1.7"/><circle cx="265.2" cy="51.6" r="1.7"/><circle cx="265.7" cy="66.7" r="1.7"/><circle cx="266.2" cy="58.5" r="1.7"/><circle cx="266.6" cy="53.5" r="1.7"/><circle cx="267.1" cy="56.2" r="1.7"/><circle cx="267.5" cy="57.1" r="1.7"/><circle cx="268.0" cy="63.5" r="1.7"/><circle cx="268.5" cy="47.4" r="1.7"/><circle cx="268.9" cy="51.3" r="1.7"/><circle cx="269.4" cy="55.9" r="1.7"/><circle cx="269.9" cy="76.3" r="1.7"/><circle cx="270.3" cy="65.2" r="1.7"/><circle cx="270.8" cy="57.7" r="1.7"/><circle cx="271.3" cy="63.5" r="1.7"/><circle cx="271.7" cy="72.8" r="1.7"/><circle cx="272.2" cy="56.8" r="1.7"/><circle cx="272.6" cy="55.8" r="1.7"/><circle cx="273.1" cy="66.9" r="1.7"/><circle cx="273.6" cy="61.8" r="1.7"/><circle cx="274.0" cy="63.0" r="1.7"/><circle cx="274.5" cy="54.8" r="1.7"/><circle cx="275.0" cy="71.8" r="1.7"/><circle cx="275.4" cy="70.2" r="1.7"/><circle cx="275.9" cy="62.2" r="1.7"/><circle cx="276.4" cy="63.0" r="1.7"/><circle cx="276.8" cy="44.0" r="1.7"/><circle cx="277.3" cy="62.7" r="1.7"/><circle cx="277.7" cy="56.8" r="1.7"/><circle cx="278.2" cy="61.2" r="1.7"/><circle cx="278.7" cy="62.9" r="1.7"/><circle cx="279.1" cy="55.7" r="1.7"/><circle cx="279.6" cy="46.3" r="1.7"/><circle cx="280.1" cy="60.6" r="1.7"/><circle cx="280.5" cy="52.9" r="1.7"/><circle cx="281.0" cy="55.7" r="1.7"/><circle cx="281.5" cy="53.8" r="1.7"/><circle cx="281.9" cy="55.6" r="1.7"/><circle cx="282.4" cy="41.8" r="1.7"/><circle cx="282.8" cy="66.5" r="1.7"/><circle cx="283.3" cy="59.7" r="1.7"/><circle cx="283.8" cy="65.7" r="1.7"/><circle cx="284.2" cy="71.8" r="1.7"/><circle cx="284.7" cy="58.0" r="1.7"/><circle cx="285.2" cy="45.3" r="1.7"/><circle cx="285.6" cy="51.6" r="1.7"/><circle cx="286.1" cy="49.4" r="1.7"/><circle cx="286.6" cy="54.3" r="1.7"/><circle cx="287.0" cy="58.4" r="1.7"/><circle cx="287.5" cy="43.8" r="1.7"/><circle cx="287.9" cy="60.2" r="1.7"/><circle cx="288.4" cy="47.2" r="1.7"/><circle cx="288.9" cy="59.8" r="1.7"/><circle cx="289.3" cy="56.9" r="1.7"/><circle cx="289.8" cy="55.5" r="1.7"/><circle cx="290.3" cy="57.2" r="1.7"/><circle cx="290.7" cy="53.9" r="1.7"/><circle cx="291.2" cy="53.3" r="1.7"/><circle cx="291.7" cy="45.8" r="1.7"/><circle cx="292.1" cy="57.4" r="1.7"/><circle cx="292.6" cy="70.5" r="1.7"/><circle cx="293.0" cy="71.4" r="1.7"/><circle cx="293.5" cy="66.8" r="1.7"/><circle cx="294.0" cy="62.5" r="1.7"/><circle cx="294.4" cy="52.8" r="1.7"/><circle cx="294.9" cy="67.6" r="1.7"/><circle cx="295.4" cy="57.1" r="1.7"/><circle cx="295.8" cy="57.0" r="1.7"/><circle cx="296.3" cy="55.4" r="1.7"/><circle cx="296.8" cy="58.1" r="1.7"/><circle cx="297.2" cy="54.4" r="1.7"/><circle cx="297.7" cy="56.8" r="1.7"/><circle cx="298.1" cy="49.8" r="1.7"/><circle cx="298.6" cy="54.7" r="1.7"/><circle cx="299.1" cy="73.3" r="1.7"/><circle cx="299.5" cy="56.8" r="1.7"/><circle cx="300.0" cy="55.6" r="1.7"/><circle cx="300.5" cy="61.0" r="1.7"/><circle cx="300.9" cy="62.2" r="1.7"/><circle cx="301.4" cy="49.4" r="1.7"/><circle cx="301.9" cy="55.8" r="1.7"/><circle cx="302.3" cy="63.6" r="1.7"/><circle cx="302.8" cy="59.1" r="1.7"/><circle cx="303.2" cy="58.0" r="1.7"/><circle cx="303.7" cy="68.0" r="1.7"/><circle cx="304.2" cy="52.4" r="1.7"/><circle cx="304.6" cy="57.7" r="1.7"/><circle cx="305.1" cy="53.4" r="1.7"/><circle cx="305.6" cy="67.5" r="1.7"/><circle cx="306.0" cy="43.4" r="1.7"/><circle cx="306.5" cy="52.3" r="1.7"/><circle cx="307.0" cy="53.3" r="1.7"/><circle cx="307.4" cy="61.6" r="1.7"/><circle cx="307.9" cy="61.2" r="1.7"/><circle cx="308.4" cy="66.7" r="1.7"/><circle cx="308.8" cy="45.9" r="1.7"/><circle cx="309.3" cy="62.1" r="1.7"/><circle cx="309.7" cy="54.8" r="1.7"/><circle cx="310.2" cy="52.2" r="1.7"/><circle cx="310.7" cy="60.6" r="1.7"/><circle cx="311.1" cy="50.3" r="1.7"/><circle cx="311.6" cy="42.2" r="1.7"/><circle cx="312.1" cy="54.1" r="1.7"/><circle cx="312.5" cy="46.2" r="1.7"/><circle cx="313.0" cy="52.1" r="1.7"/><circle cx="313.5" cy="59.2" r="1.7"/><circle cx="313.9" cy="58.8" r="1.7"/><circle cx="314.4" cy="67.7" r="1.7"/><circle cx="314.8" cy="55.2" r="1.7"/><circle cx="315.3" cy="45.8" r="1.7"/><circle cx="315.8" cy="51.2" r="1.7"/><circle cx="316.2" cy="50.0" r="1.7"/><circle cx="316.7" cy="47.9" r="1.7"/><circle cx="317.2" cy="59.5" r="1.7"/><circle cx="317.6" cy="51.9" r="1.7"/><circle cx="318.1" cy="42.5" r="1.7"/><circle cx="40.4" cy="282.5" r="1.7"/></g>
<path d="M41.1 269.6L41.6 222.0L42.1 196.6L42.6 179.0L43.1 156.5L43.6 136.9L44.1 124.7L44.6 117.1L45.1 111.1L45.6 106.3L46.1 102.6L46.6 99.9L47.1 97.5L47.6 95.1L48.1 92.9L48.6 90.9L49.1 89.1L49.6 87.5L50.1 86.0L50.6 84.7L51.1 83.7L51.6 82.7L52.1 81.9L52.6 81.1L53.1 80.5L53.6 79.9L54.1 79.4L54.6 79.0L55.1 78.6L55.6 78.3L56.1 77.9L56.6 77.6L57.1 77.3L57.6 76.9L58.1 76.5L58.6 76.1L59.1 75.7L59.6 75.2L60.1 74.8L60.6 74.3L61.1 73.9L61.6 73.4L62.1 73.0L62.6 72.6L63.1 72.2L63.6 71.8L64.1 71.4L64.6 71.0L65.1 70.7L65.6 70.5L66.1 70.4L66.6 70.3L67.1 70.3L67.6 70.2L68.1 70.2L68.6 70.1L69.1 70.1L69.6 70.1L70.1 70.0L70.6 70.0L71.1 70.0L71.6 70.0L72.1 70.0L72.6 70.0L73.1 70.0L73.6 70.0L74.1 70.0L74.6 70.1L75.1 70.1L75.6 70.1L76.1 70.1L76.6 70.2L77.1 70.2L77.6 70.2L78.1 70.3L78.6 70.3L79.1 70.3L79.6 70.4L80.1 70.4L80.6 70.4L81.1 70.5L81.6 70.5L82.1 70.5L82.6 70.5L83.1 70.6L83.6 70.6L84.1 70.6L84.6 70.6L85.1 70.6L85.6 70.6L86.1 70.6L86.6 70.6L87.1 70.6L87.6 70.6L88.1 70.6L88.6 70.6L89.1 70.6L89.6 70.5L90.1 70.5L90.6 70.5L91.1 70.5L91.6 70.5L92.1 70.5L92.6 70.4L93.1 70.4L93.6 70.4L94.1 70.4L94.6 70.4L95.1 70.4L95.6 70.3L96.1 70.3L96.6 70.3L97.1 70.3L97.6 70.3L98.1 70.3L98.6 70.2L99.1 70.2L99.6 70.2L100.1 70.2L100.6 70.2L101.1 70.2L101.6 70.2L102.1 70.2L102.6 70.2L103.1 70.2L103.6 70.1L104.1 70.1L104.6 70.1L105.1 70.1L105.6 70.1L106.1 70.1L106.6 70.1L107.1 70.1L107.6 70.1L108.1 70.1L108.6 70.1L109.1 70.1L109.6 70.0L110.1 70.0L110.6 70.0L111.1 70.0L111.6 70.0L112.1 70.0L112.6 70.0L113.1 70.0L113.6 70.0L114.1 70.0L114.6 70.0L115.1 70.0L115.6 70.0L116.1 70.0L116.6 70.0L117.1 70.0L117.6 70.0L118.1 70.0L118.6 70.0L119.1 70.0L119.6 70.1L120.1 70.1L120.6 70.1L121.1 70.1L121.6 70.1L122.1 70.1L122.6 70.2L123.1 70.2L123.6 70.2L124.1 70.3L124.6 70.4L125.1 70.6L125.6 70.7L126.1 70.9L126.6 71.0L127.1 71.2L127.6 71.3L128.1 71.4L128.6 71.6L129.1 71.8L129.6 72.0L130.1 72.3L130.6 73.4L131.1 75.8L131.6 76.4L132.1 75.8L132.6 74.8L132.9 73.8" stroke="#d9a22b" stroke-width="3" fill="none" stroke-linejoin="round" stroke-linecap="round"/>
<path d="M40.9 271.3L41.5 268.5L42.2 266.0L43.1 264.8L43.6 264.2L44.1 263.6L44.6 263.0L45.1 262.4L45.6 261.7L46.1 261.1L46.6 260.5L47.1 259.9L47.6 259.3L48.1 258.6L48.6 258.0L49.1 257.4L49.6 256.8L50.1 256.2L50.6 255.5L51.1 254.9L51.6 254.3L52.1 253.7L52.6 253.0L53.1 252.4L53.6 251.8L54.1 251.1L54.6 250.5L55.1 249.9L55.6 249.2L56.1 248.6L56.6 248.0L57.1 247.3L57.6 246.7L58.1 246.1L58.6 245.4L59.1 244.8L59.6 244.1L60.1 243.5L60.6 242.8L61.1 242.2L61.6 241.6L62.1 240.9L62.6 240.3L63.1 239.6L63.6 238.9L64.1 238.3L64.6 237.6L65.1 237.0L65.6 236.3L66.1 235.7L66.6 235.0L67.1 234.3L67.6 233.7L68.1 233.0L68.6 232.3L69.1 231.6L69.6 231.0L70.1 230.3L70.6 229.6L71.1 228.9L71.6 228.3L72.1 227.6L72.6 226.9L73.1 226.2L73.6 225.5L74.1 224.8L74.6 224.1L75.1 223.5L75.6 222.8L76.1 222.1L76.6 221.4L77.1 220.7L77.6 220.0L78.1 219.2L78.6 218.5L79.1 217.8L79.6 217.1L80.1 216.4L80.6 215.7L81.1 215.0L81.6 214.2L82.1 213.5L82.6 212.8L83.1 212.1L83.6 211.3L84.1 210.6L84.6 209.9L85.1 209.1L85.6 208.4L86.1 207.6L86.6 206.9L87.1 206.2L87.6 205.4L88.1 204.7L88.6 203.9L89.1 203.1L89.6 202.4L90.1 201.6L90.6 200.9L91.1 200.1L91.6 199.3L92.1 198.5L92.6 197.8L93.1 197.0L93.6 196.2L94.1 195.4L94.6 194.6L95.1 193.8L95.6 193.0L96.1 192.3L96.6 191.5L97.1 190.7L97.6 189.9L98.1 189.1L98.6 188.2L99.1 187.4L99.6 186.6L100.1 185.8L100.6 185.0L101.1 184.2L101.6 183.4L102.1 182.6L102.6 181.7L103.1 180.9L103.6 180.1L104.1 179.3L104.6 178.4L105.1 177.6L105.6 176.8L106.1 175.9L106.6 175.1L107.1 174.3L107.6 173.4L108.1 172.6L108.6 171.8L109.1 170.9L109.6 170.1L110.1 169.3L110.6 168.4L111.1 167.6L111.6 166.7L112.1 165.9L112.6 165.0L113.1 164.2L113.6 163.4L114.1 162.5L114.6 161.7L115.1 160.8L115.6 160.0L116.1 159.1L116.6 158.3L117.1 157.4L117.6 156.6L118.1 155.7L118.6 154.9L119.1 154.0L119.6 153.2L120.1 152.3L120.6 151.5L121.1 150.6L121.6 149.8L122.1 148.9L122.6 148.1L123.1 147.2L123.6 146.4L124.1 145.5L124.6 144.7L125.1 143.8L125.6 143.0L126.1 142.2L126.6 141.3L127.1 140.5L127.6 139.6L128.1 138.8L128.6 138.0L129.1 137.1L129.6 136.3L130.1 135.5L130.6 134.6L131.1 133.8L131.6 133.0L132.1 132.2L132.6 131.3L133.1 130.5L133.6 129.7L134.1 128.9L134.6 128.1L135.1 127.3L135.6 126.5L136.1 125.7L136.6 124.9L137.1 124.1L137.6 123.3L138.1 122.6L138.6 121.8L139.1 121.0L139.6 120.2L140.1 119.5L140.6 118.7L141.1 118.0L141.6 117.2L142.1 116.5L142.6 115.8L143.1 115.0L143.6 114.3L144.1 113.6L144.6 112.9L145.1 112.2L145.6 111.4L146.1 110.8L146.6 110.1L147.1 109.4L147.6 108.7L148.1 108.0L148.6 107.4L149.1 106.7L149.6 106.1L150.1 105.4L150.6 104.8L151.1 104.1L151.6 103.5L152.1 102.9L152.6 102.3L153.1 101.7L153.6 101.1L154.1 100.5L154.6 99.9L155.1 99.4L155.6 98.8L156.1 98.2L156.6 97.7L157.1 97.1L157.6 96.6L158.1 96.1L158.6 95.5L159.1 95.0L159.6 94.5L160.1 94.0L160.6 93.5L161.1 93.0L161.6 92.5L162.1 92.0L162.6 91.5L163.1 91.1L163.6 90.6L164.1 90.1L164.6 89.7L165.1 89.2L165.6 88.8L166.1 88.3L166.6 87.9L167.1 87.5L167.6 87.0L168.1 86.6L168.6 86.2L169.1 85.8L169.6 85.4L170.1 85.0L170.6 84.6L171.1 84.2L171.6 83.9L172.1 83.5L172.6 83.1L173.1 82.8L173.6 82.4L174.1 82.0L174.6 81.7L175.1 81.3L175.6 81.0L176.1 80.7L176.6 80.3L177.1 80.0L177.6 79.7L178.1 79.4L178.6 79.1L179.1 78.8L179.6 78.4L180.1 78.1L180.6 77.9L181.1 77.6L181.6 77.3L182.1 77.0L182.6 76.7L183.1 76.4L183.6 76.2L184.1 75.9L184.6 75.6L185.1 75.4L185.6 75.1L186.1 74.9L186.6 74.6L187.1 74.4L187.6 74.1L188.1 73.9L188.6 73.7L189.1 73.4L189.6 73.2L190.1 73.0L190.6 72.8L191.1 72.6L191.6 72.3L192.1 72.1L192.6 71.9L193.1 71.7L193.6 71.5L194.1 71.3L194.6 71.1L195.1 70.9L195.6 70.8L196.1 70.6L196.6 70.4L197.1 70.2L197.6 70.0L198.1 69.9L198.6 69.7L199.1 69.5L199.6 69.3L200.1 69.2L200.6 69.0L201.1 68.9L201.6 68.7L202.1 68.5L202.6 68.4L203.1 68.2L203.6 68.1L204.1 67.9L204.6 67.8L205.1 67.7L205.6 67.5L206.1 67.4L206.6 67.2L207.1 67.1L207.6 67.0L208.1 66.8L208.6 66.7L209.1 66.6L209.6 66.5L210.1 66.3L210.6 66.2L211.1 66.1L211.6 66.0L212.1 65.8L212.6 65.7L213.1 65.6L213.6 65.5L214.1 65.4L214.6 65.3L215.1 65.1L215.6 65.0L216.1 64.9L216.6 64.8L217.1 64.7L217.6 64.6L218.1 64.5L218.6 64.4L219.1 64.3L219.6 64.2L220.1 64.1L220.6 64.0L221.1 63.9L221.6 63.8L222.1 63.7L222.6 63.6L223.1 63.5L223.6 63.4L224.1 63.3L224.6 63.2L225.1 63.1L225.6 63.1L226.1 63.0L226.6 62.9L227.1 62.8L227.6 62.7L228.1 62.6L228.6 62.6L229.1 62.5L229.6 62.4L230.1 62.3L230.6 62.2L231.1 62.2L231.6 62.1L232.1 62.0L232.6 61.9L233.1 61.9L233.6 61.8L234.1 61.7L234.6 61.7L235.1 61.6L235.6 61.5L236.1 61.4L236.6 61.4L237.1 61.3L237.6 61.2L238.1 61.2L238.6 61.1L239.1 61.1L239.6 61.0L240.1 60.9L240.6 60.9L241.1 60.8L241.6 60.8L242.1 60.7L242.6 60.6L243.1 60.6L243.6 60.5L244.1 60.5L244.6 60.4L245.1 60.4L245.6 60.3L246.1 60.3L246.6 60.2L247.1 60.2L247.6 60.1L248.1 60.1L248.6 60.0L249.1 60.0L249.6 59.9L250.1 59.9L250.6 59.8L251.1 59.8L251.6 59.8L252.1 59.7L252.6 59.7L253.1 59.6L253.6 59.6L254.1 59.6L254.6 59.5L255.1 59.5L255.6 59.4L256.1 59.4L256.6 59.4L257.1 59.3L257.6 59.3L258.1 59.2L258.6 59.2L259.1 59.2L259.6 59.1L260.1 59.1L260.6 59.1L261.1 59.0L261.6 59.0L262.1 59.0L262.6 58.9L263.1 58.9L263.6 58.9L264.1 58.9L264.6 58.8L265.1 58.8L265.6 58.8L266.1 58.7L266.6 58.7L267.1 58.7L267.6 58.7L268.1 58.6L268.6 58.6L269.1 58.6L269.6 58.5L270.1 58.5L270.6 58.5L271.1 58.5L271.6 58.4L272.1 58.4L272.6 58.4L273.1 58.4L273.6 58.4L274.1 58.3L274.6 58.3L275.1 58.3L275.6 58.3L276.1 58.2L276.6 58.2L277.1 58.2L277.6 58.2L278.1 58.2L278.6 58.1L279.1 58.1L279.6 58.1L280.1 58.1L280.6 58.0L281.1 58.0L281.6 58.0L282.1 58.0L282.6 58.0L283.1 57.9L283.6 57.9L284.1 57.9L284.6 57.9L285.1 57.9L285.6 57.9L286.1 57.8L286.6 57.8L287.1 57.8L287.6 57.8L288.1 57.8L288.6 57.7L289.1 57.7L289.6 57.7L290.1 57.7L290.6 57.7L291.1 57.6L291.6 57.6L292.1 57.6L292.6 57.6L293.1 57.6L293.6 57.5L294.1 57.5L294.6 57.5L295.1 57.5L295.6 57.5L296.1 57.4L296.6 57.4L297.1 57.4L297.6 57.4L298.1 57.4L298.6 57.3L299.1 57.3L299.6 57.3L300.1 57.3L300.6 57.3L301.1 57.2L301.6 57.2L302.1 57.2L302.6 57.2L303.1 57.2L303.6 57.1L304.1 57.1L304.6 57.1L305.1 57.1L305.6 57.0L306.1 57.0L306.6 57.0L307.1 57.0L307.6 57.0L308.1 56.9L308.6 56.9L309.1 56.9L309.6 56.9L310.1 56.8L310.6 56.8L311.1 56.8L311.6 56.7L312.1 56.7L312.6 56.7L313.1 56.7L313.6 56.6L314.1 56.6L314.6 56.6L315.1 56.5L315.6 56.5L316.1 56.5L316.6 56.5L317.1 56.4L317.6 56.4L318.1 56.4L318.6 56.3L319.1 56.3L319.6 56.3L320.1 56.2L320.6 56.2L321.1 56.2L321.6 56.1" stroke="#fb1616" stroke-width="3.3" fill="none" stroke-linejoin="round" stroke-linecap="round"/>
<path d="M335.0 91.0h0M335.4 90.2h0M335.8 89.5h0M336.1 88.9h0M336.5 88.3h0M336.9 87.8h0M337.3 87.4h0M337.7 87.0h0M338.0 86.7h0M338.4 86.4h0M338.8 86.2h0M339.2 86.0h0M339.6 85.9h0M339.9 85.8h0M340.3 85.7h0M340.7 85.7h0M341.1 85.7h0M341.5 85.9h0M341.8 86.3h0M342.2 86.9h0M342.6 87.6h0M343.0 88.4h0M343.4 89.2h0M343.7 90.2h0M344.1 91.1h0M344.5 92.1h0M344.9 93.1h0M345.3 94.0h0M345.6 94.8h0M346.0 95.6h0M346.4 96.2h0M346.8 96.6h0M347.2 96.9h0M347.5 97.0h0M347.9 96.9h0M348.3 96.7h0M348.7 96.5h0M349.1 96.1h0M349.4 95.7h0M349.8 95.2h0M350.2 94.6h0M350.6 94.0h0M351.0 93.4h0M351.3 92.8h0M351.7 92.2h0M352.1 91.6h0M352.5 91.0h0M352.9 90.5h0M353.2 90.0h0M353.6 89.5h0M354.0 89.1h0M354.4 88.9h0M354.8 88.7h0M355.1 88.6h0M355.5 88.7h0M355.9 88.9h0M356.3 89.2h0M356.7 89.6h0M357.0 90.1h0M357.4 90.7h0M357.8 91.3h0M358.2 92.0h0M358.6 92.7h0M358.9 93.4h0M359.3 94.0h0M359.7 94.6h0M360.1 95.2h0M360.5 95.7h0M360.8 96.0h0M361.2 96.3h0M361.6 96.4h0M362.0 96.4h0M362.4 96.2h0M362.7 95.9h0M363.1 95.5h0M363.5 95.0h0M363.9 94.4h0M364.3 93.8h0M364.6 93.1h0M365.0 92.4h0M365.4 91.6h0M365.8 90.9h0M366.2 90.2h0M366.5 89.4h0M366.9 88.8h0M367.3 88.1h0M367.7 87.6h0M368.1 87.1h0M368.4 86.7h0M368.8 86.5h0M369.2 86.3h0M369.6 86.4h0M370.0 86.9h0M370.3 87.8h0M370.7 89.2h0M371.1 90.9h0M371.5 92.8h0M371.9 95.0h0M372.2 97.3h0M372.6 99.6h0M373.0 102.0h0M373.4 104.4h0M373.8 106.6h0M374.1 108.6h0M374.5 110.4h0M374.9 111.9h0M375.3 113.1h0M375.7 113.8h0M376.0 114.0h0M376.4 113.5h0M376.8 112.4h0M377.2 110.6h0M377.6 108.2h0M377.9 105.3h0M378.3 101.9h0M378.7 98.2h0M379.1 94.1h0M379.5 89.7h0M379.8 85.1h0M380.2 80.4h0M380.6 75.6h0M381.0 70.8h0M381.4 66.0h0M381.7 61.3h0M382.1 56.8h0M382.5 52.5h0M382.9 48.5h0M383.3 44.9h0M383.6 41.6h0M384.0 38.0h0M384.4 34.2h0M384.8 30.4h0M385.2 26.6h0M385.5 23.1h0M385.9 20.2h0M386.3 17.8h0M386.7 16.4h0M387.1 16.0h0M387.4 16.7h0M387.8 18.1h0M388.2 20.2h0M388.6 22.6h0M389.0 25.1h0M389.3 27.5h0M389.7 29.6h0M390.1 31.6h0M390.5 33.5h0M390.9 35.3h0M391.2 37.1h0M391.6 39.0h0M392.0 40.9h0M392.4 42.8h0M392.8 44.9h0M393.1 47.2h0M393.5 49.6h0M393.9 52.2h0M394.3 55.1h0M394.7 58.3h0M395.0 62.3h0M395.4 67.6h0M395.8 73.9h0M396.2 80.4h0M396.6 86.6h0M396.9 92.0h0M397.3 96.2h0M397.7 100.3h0M398.1 104.0h0M398.5 106.6h0M398.8 107.5h0M399.2 107.4h0M399.6 107.2h0M400.0 106.9h0M400.4 106.5h0M400.7 106.1h0M401.1 105.5h0M401.5 104.9h0M401.9 104.3h0M402.3 103.6h0M402.6 103.0h0M403.0 102.3h0M403.4 101.6h0M403.8 101.0h0M404.2 100.4h0M404.5 99.9h0M404.9 99.4h0M405.3 99.0h0M405.7 98.7h0M406.1 98.5h0M406.4 98.4h0M406.8 98.4h0M407.2 98.5h0M407.6 98.7h0M408.0 98.9h0M408.3 99.2h0M408.7 99.4h0M409.1 99.7h0M409.5 100.0h0M409.9 100.2h0M410.2 100.3h0M410.6 100.4h0M411.0 100.4h0M411.4 100.2h0M411.8 100.0h0M412.1 99.6h0M412.5 99.2h0M412.9 98.7h0M413.3 98.1h0M413.7 97.6h0M414.0 97.0h0M414.4 96.5h0M414.8 95.9h0M415.2 95.5h0M415.6 95.1h0M415.9 94.8h0M416.3 94.6h0M416.7 94.5h0M417.1 94.6h0M417.5 94.7h0M417.8 94.9h0M418.2 95.2h0M418.6 95.6h0M419.0 96.0h0M419.4 96.5h0M419.7 97.0h0M420.1 97.6h0M420.5 98.1h0M420.9 98.7h0M421.3 99.2h0M421.6 99.8h0M422.0 100.3h0M422.4 100.8h0M422.8 101.3h0M423.2 101.7h0M423.5 102.0h0M423.9 102.3h0M424.3 102.5h0M424.7 102.6h0M425.1 102.6h0M425.4 102.5h0M425.8 102.3h0M426.2 102.1h0M426.6 101.8h0M427.0 101.4h0M427.3 101.0h0M427.7 100.5h0M428.1 99.9h0M428.5 99.3h0M428.9 98.6h0M429.2 97.9h0M429.6 97.2h0M430.0 96.5h0M430.4 95.7h0M430.8 94.9h0M431.1 94.1h0M431.5 93.2h0M431.9 92.4h0M432.3 91.6h0M432.7 90.7h0M433.0 89.9h0M433.4 89.1h0M433.8 88.3h0M434.2 87.6h0M434.6 86.8h0M434.9 86.1h0M435.3 85.5h0M435.7 84.9h0M436.1 84.3h0M436.5 83.8h0M436.8 83.3h0M437.2 82.9h0M437.6 82.6h0M438.0 82.3h0M438.4 82.1h0M438.7 82.0h0M439.1 82.0h0M439.5 82.1h0M439.9 82.3h0M440.3 82.6h0M440.6 83.0h0M441.0 83.4h0M441.4 84.0h0M441.8 84.6h0M442.2 85.2h0M442.5 85.9h0M442.9 86.7h0M443.3 87.5h0M443.7 88.3h0M444.1 89.2h0M444.4 90.1h0M444.8 91.0h0M445.2 91.9h0M445.6 92.8h0M446.0 93.6h0M446.3 94.5h0M446.7 95.3h0M447.1 96.1h0M447.5 96.9h0M447.9 97.6h0M448.2 98.3h0M448.6 98.9h0M449.0 99.4h0M449.4 99.9h0M449.8 100.2h0M450.1 100.5h0M450.5 100.7h0M450.9 100.8h0M451.3 100.8h0M451.7 100.7h0M452.0 100.6h0M452.4 100.4h0M452.8 100.2h0M453.2 100.0h0M453.6 99.8h0M453.9 99.6h0M454.3 99.5h0M454.7 99.4h0M455.1 99.4h0M455.5 99.5h0M455.8 99.7h0M456.2 100.0h0M456.6 100.4h0M457.0 100.8h0M457.4 101.3h0M457.7 101.8h0M458.1 102.4h0M458.5 103.0h0M458.9 103.5h0M459.3 104.1h0M459.6 104.6h0M460.0 105.0h0M460.4 105.4h0M460.8 105.8h0M461.2 106.0h0M461.5 106.1h0M461.9 106.1h0M462.3 105.8h0M462.7 105.2h0M463.1 104.5h0M463.4 103.5h0M463.8 102.3h0M464.2 101.0h0M464.6 99.4h0M465.0 97.7h0M465.3 95.9h0M465.7 93.9h0M466.1 91.8h0M466.5 89.7h0M466.9 87.4h0M467.2 85.1h0M467.6 82.7h0M468.0 80.3h0M468.4 77.9h0M468.8 75.5h0M469.1 73.0h0M469.5 70.6h0M469.9 68.3h0M470.3 65.9h0M470.7 63.7h0M471.0 61.5h0M471.4 59.5h0M471.8 57.5h0M472.2 55.7h0M472.6 54.0h0M472.9 52.5h0M473.3 51.1h0M473.7 50.0h0M474.1 49.0h0M474.5 48.3h0M474.8 47.8h0M475.2 47.5h0M475.6 47.5h0M476.0 47.8h0M476.4 48.4h0M476.7 49.2h0M477.1 50.2h0M477.5 51.4h0M477.9 52.8h0M478.3 54.4h0M478.6 56.2h0M479.0 58.1h0M479.4 60.1h0M479.8 62.3h0M480.2 64.5h0M480.5 66.8h0M480.9 69.2h0M481.3 71.6h0M481.7 74.0h0M482.1 76.5h0M482.4 78.9h0M482.8 81.3h0M483.2 83.7h0M483.6 86.0h0M484.0 88.3h0M484.3 90.4h0M484.7 92.5h0M485.1 94.4h0M485.5 96.2h0M485.9 97.8h0M486.2 99.3h0M486.6 100.5h0M487.0 101.6h0M487.4 102.4h0M487.8 103.0h0M488.1 103.3h0M488.5 103.4h0M488.9 103.3h0M489.3 103.2h0M489.7 103.0h0M490.0 102.7h0M490.4 102.4h0M490.8 102.0h0M491.2 101.5h0M491.6 101.0h0M491.9 100.4h0M492.3 99.8h0M492.7 99.2h0M493.1 98.5h0M493.5 97.7h0M493.8 97.0h0M494.2 96.2h0M494.6 95.3h0M495.0 94.5h0M495.4 93.6h0M495.7 92.7h0M496.1 91.8h0M496.5 90.9h0M496.9 90.0h0M497.3 89.0h0M497.6 88.1h0M498.0 87.2h0M498.4 86.3h0M498.8 85.4h0M499.2 84.5h0M499.5 83.6h0M499.9 82.8h0M500.3 81.9h0M500.7 81.1h0M501.1 80.3h0M501.4 79.6h0M501.8 78.9h0M502.2 78.2h0M502.6 77.6h0M503.0 77.0h0M503.3 76.5h0M503.7 76.0h0M504.1 75.6h0M504.5 75.3h0M504.9 75.0h0M505.2 74.7h0M505.6 74.6h0M506.0 74.5h0M506.4 74.5h0M506.8 74.6h0M507.1 74.7h0M507.5 75.0h0M507.9 75.2h0M508.3 75.6h0M508.7 76.0h0M509.0 76.5h0M509.4 77.0h0M509.8 77.6h0M510.2 78.2h0M510.6 78.8h0M510.9 79.5h0M511.3 80.2h0M511.7 81.0h0M512.1 81.8h0M512.5 82.6h0M512.8 83.4h0M513.2 84.3h0M513.6 85.2h0M514.0 86.0h0M514.4 86.9h0M514.7 87.8h0M515.1 88.7h0M515.5 89.6h0M515.9 90.4h0M516.3 91.3h0M516.6 92.1h0M517.0 93.0h0M517.4 93.8h0M517.8 94.6h0M518.2 95.3h0M518.5 96.0h0M518.9 96.7h0M519.3 97.4h0M519.7 98.0h0M520.1 98.5h0M520.4 99.0h0M520.8 99.5h0M521.2 99.9h0M521.6 100.2h0M522.0 100.5h0M522.3 100.7h0M522.7 100.8h0M523.1 100.9h0M523.5 100.9h0M523.9 100.6h0M524.2 100.3h0M524.6 99.8h0M525.0 99.1h0M525.4 98.3h0M525.8 97.4h0M526.1 96.4h0M526.5 95.3h0M526.9 94.2h0M527.3 92.9h0M527.7 91.6h0M528.0 90.3h0M528.4 88.9h0M528.8 87.5h0M529.2 86.1h0M529.6 84.7h0M529.9 83.3h0M530.3 81.9h0M530.7 80.5h0M531.1 79.2h0M531.5 78.0h0M531.8 76.8h0M532.2 75.7h0M532.6 74.6h0M533.0 73.7h0M533.4 72.9h0M533.7 72.2h0M534.1 71.6h0M534.5 71.2h0M534.9 70.9h0M535.3 70.8h0M535.6 70.8h0M536.0 71.0h0M536.4 71.3h0M536.8 71.7h0M537.2 72.2h0M537.5 72.7h0M537.9 73.4h0M538.3 74.1h0M538.7 75.0h0M539.1 75.8h0M539.4 76.8h0M539.8 77.8h0M540.2 78.8h0M540.6 79.9h0M541.0 80.9h0M541.3 82.1h0M541.7 83.2h0M542.1 84.3h0M542.5 85.5h0M542.9 86.6h0M543.2 87.8h0M543.6 88.9h0M544.0 90.0h0M544.4 91.0h0M544.8 92.1h0M545.1 93.0h0M545.5 94.0h0M545.9 94.8h0M546.3 95.6h0M546.7 96.3h0M547.0 97.0h0M547.4 97.5h0M547.8 98.0h0M548.2 98.4h0M548.6 98.6h0M548.9 98.8h0M549.3 98.8h0M549.7 98.7h0M550.1 98.6h0M550.5 98.3h0M550.8 98.1h0M551.2 97.7h0M551.6 97.3h0M552.0 96.8h0M552.4 96.3h0M552.7 95.8h0M553.1 95.3h0M553.5 94.7h0M553.9 94.1h0M554.3 93.5h0M554.6 92.9h0M555.0 92.3h0M555.4 91.8h0M555.8 91.2h0M556.2 90.7h0M556.5 90.2h0M556.9 89.8h0M557.3 89.4h0M557.7 89.0h0M558.1 88.8h0M558.4 88.6h0M558.8 88.4h0M559.2 88.4h0M559.6 88.4h0M560.0 88.5h0M560.3 88.6h0M560.7 88.8h0M561.1 89.1h0M561.5 89.3h0M561.9 89.6h0M562.2 90.0h0M562.6 90.3h0M563.0 90.7h0M563.4 91.1h0M563.8 91.6h0M564.1 92.0h0M564.5 92.5h0M564.9 93.0h0M565.3 93.4h0M565.7 93.9h0M566.0 94.4h0M566.4 94.9h0M566.8 95.3h0M567.2 95.8h0M567.6 96.2h0M567.9 96.6h0M568.3 97.0h0M568.7 97.4h0M569.1 97.7h0M569.5 98.0h0M569.8 98.2h0M570.2 98.4h0M570.6 98.6h0M571.0 98.7h0M571.4 98.8h0M571.7 98.8h0M572.1 98.6h0M572.5 98.2h0M572.9 97.6h0M573.3 96.9h0M573.6 96.0h0M574.0 94.9h0M574.4 93.7h0M574.8 92.4h0M575.2 91.0h0M575.5 89.5h0M575.9 87.9h0M576.3 86.2h0M576.7 84.5h0M577.1 82.8h0M577.4 81.0h0M577.8 79.2h0M578.2 77.4h0M578.6 75.6h0M579.0 73.8h0M579.3 72.1h0M579.7 70.5h0M580.1 68.8h0M580.5 67.3h0M580.9 65.9h0M581.2 64.6h0M581.6 63.3h0M582.0 62.3h0M582.4 61.3h0M582.8 60.6h0M583.1 60.0h0M583.5 59.5h0M583.9 59.3h0M584.3 59.3h0M584.7 59.4h0M585.0 59.7h0M585.4 60.0h0M585.8 60.4h0M586.2 61.0h0M586.6 61.6h0M586.9 62.3h0M587.3 63.1h0M587.7 63.9h0M588.1 64.9h0M588.5 65.9h0M588.8 66.9h0M589.2 68.0h0M589.6 69.2h0M590.0 70.4h0M590.4 71.6h0M590.7 72.9h0M591.1 74.1h0M591.5 75.4h0M591.9 76.7h0M592.3 78.1h0M592.6 79.4h0M593.0 80.7h0M593.4 82.0h0M593.8 83.3h0M594.2 84.6h0M594.5 85.8h0M594.9 87.0h0M595.3 88.2h0M595.7 89.4h0M596.1 90.5h0M596.4 91.5h0M596.8 92.5h0M597.2 93.4h0M597.6 94.2h0M598.0 95.0h0M598.3 95.7h0M598.7 96.3h0M599.1 96.8h0M599.5 97.2h0M599.9 97.5h0M600.2 97.7h0M600.6 97.8h0M601.0 97.8h0M601.4 97.7h0M601.8 97.5h0M602.1 97.2h0M602.5 96.9h0M602.9 96.6h0M603.3 96.2h0M603.7 95.8h0M604.0 95.5h0M604.4 95.1h0M604.8 94.7h0M605.2 94.4h0M605.6 94.1h0M605.9 93.9h0M606.3 93.7h0M606.7 93.6h0M607.1 93.6h0M607.5 93.6h0M607.8 93.7h0M608.2 93.8h0M608.6 93.9h0M609.0 94.1h0M609.4 94.3h0M609.7 94.4h0M610.1 94.6h0M610.5 94.8h0M610.9 95.0h0M611.3 95.2h0M611.6 95.4h0M612.0 95.6h0M612.4 95.7h0M612.8 95.9h0M613.2 96.0h0M613.5 96.0h0M613.9 96.1h0M614.3 96.1h0M614.7 96.0h0M615.1 95.8h0M615.4 95.5h0M615.8 95.1h0M616.2 94.7h0M616.6 94.1h0M617.0 93.5h0M617.3 92.9h0M617.7 92.1h0M618.1 91.4h0M618.5 90.6h0M618.9 89.8h0M619.2 89.0h0M619.6 88.1h0M620.0 87.3h0M620.4 86.4h0M620.8 85.6h0M621.1 84.8h0M621.5 84.1h0M621.9 83.3h0M622.3 82.7h0M622.7 82.1h0M623.0 81.5h0M623.4 81.0h0M623.8 80.6h0M624.2 80.3h0M624.6 80.1h0M624.9 80.0h0M625.3 80.0h0M625.7 80.1h0M626.1 80.2h0M626.5 80.4h0M626.8 80.7h0M627.2 81.0h0M627.6 81.4h0M628.0 81.8h0M628.4 82.2h0M628.7 82.7h0M629.1 83.2h0M629.5 83.7h0M629.9 84.2h0M630.3 84.8h0M630.6 85.4h0M631.0 86.0h0M631.4 86.6h0M631.8 87.2h0M632.2 87.8h0M632.5 88.3h0M632.9 88.9h0M633.3 89.4h0M633.7 90.0h0M634.1 90.5h0M634.4 90.9h0M634.8 91.4h0M635.2 91.7h0M635.6 92.1h0M636.0 92.4h0M636.3 92.6h0M636.7 92.8h0M637.1 92.9h0M637.5 93.0h0M637.9 93.0h0M638.2 92.9h0M638.6 92.8h0M639.0 92.7h0M639.4 92.5h0M639.8 92.3h0M640.1 92.0h0M640.5 91.7h0M640.9 91.4h0M641.3 91.1h0M641.7 90.8h0M642.0 90.5h0M642.4 90.2h0M642.8 89.9h0M643.2 89.6h0M643.6 89.3h0M643.9 89.0h0M644.3 88.8h0M644.7 88.5h0M645.1 88.3h0M645.5 88.2h0M645.8 88.1h0M646.2 88.0h0M646.6 88.0h0M647.0 88.0h0M647.4 88.0h0M647.7 88.1h0M648.1 88.1h0M648.5 88.2h0M648.9 88.2h0M649.3 88.3h0M649.6 88.4h0M650.0 88.6h0M650.4 88.7h0M650.8 88.8h0M651.2 89.0h0M651.5 89.2h0M651.9 89.3h0M652.3 89.6h0M652.7 89.8h0M653.1 90.0h0M653.4 90.3h0M653.8 90.5h0M654.2 90.8h0M654.6 91.1h0M655.0 91.4h0M655.3 91.8h0M655.7 92.1h0M656.1 92.5h0M656.5 92.9h0M656.6 93.0h0M335.0 169.5h0M335.4 169.2h0M335.8 169.0h0M336.1 168.8h0M336.5 168.7h0M336.9 168.6h0M337.3 168.6h0M337.7 168.5h0M338.0 168.5h0M338.4 168.5h0M338.8 168.5h0M339.2 168.7h0M339.6 169.0h0M339.9 169.5h0M340.3 170.2h0M340.7 171.0h0M341.1 171.8h0M341.5 172.8h0M341.8 173.9h0M342.2 175.0h0M342.6 176.1h0M343.0 177.2h0M343.4 178.4h0M343.7 179.5h0M344.1 180.5h0M344.5 181.5h0M344.9 182.4h0M345.3 183.2h0M345.6 183.9h0M346.0 184.4h0M346.4 184.7h0M346.8 184.9h0M347.2 184.9h0M347.5 184.7h0M347.9 184.4h0M348.3 183.9h0M348.7 183.3h0M349.1 182.7h0M349.4 182.0h0M349.8 181.2h0M350.2 180.3h0M350.6 179.5h0M351.0 178.6h0M351.3 177.7h0M351.7 176.8h0M352.1 176.0h0M352.5 175.2h0M352.9 174.5h0M353.2 173.8h0M353.6 173.3h0M354.0 172.8h0M354.4 172.5h0M354.8 172.3h0M355.1 172.3h0M355.5 172.4h0M355.9 172.7h0M356.3 173.0h0M356.7 173.4h0M357.0 174.0h0M357.4 174.5h0M357.8 175.2h0M358.2 175.8h0M358.6 176.5h0M358.9 177.2h0M359.3 177.9h0M359.7 178.5h0M360.1 179.1h0M360.5 179.7h0M360.8 180.2h0M361.2 180.6h0M361.6 180.9h0M362.0 181.1h0M362.4 181.2h0M362.7 181.2h0M363.1 181.0h0M363.5 180.7h0M363.9 180.4h0M364.3 180.0h0M364.6 179.6h0M365.0 179.1h0M365.4 178.6h0M365.8 178.1h0M366.2 177.6h0M366.5 177.2h0M366.9 176.8h0M367.3 176.5h0M367.7 176.2h0M368.1 176.0h0M368.4 176.0h0M368.8 176.1h0M369.2 176.5h0M369.6 177.0h0M370.0 177.6h0M370.3 178.4h0M370.7 179.4h0M371.1 180.4h0M371.5 181.5h0M371.9 182.7h0M372.2 184.0h0M372.6 185.2h0M373.0 186.5h0M373.4 187.8h0M373.8 189.0h0M374.1 190.2h0M374.5 191.4h0M374.9 192.4h0M375.3 193.4h0M375.7 194.2h0M376.0 194.9h0M376.4 195.5h0M376.8 195.8h0M377.2 196.0h0M377.6 195.9h0M377.9 195.3h0M378.3 194.2h0M378.7 192.7h0M379.1 190.8h0M379.5 188.5h0M379.8 185.9h0M380.2 182.9h0M380.6 179.7h0M381.0 176.2h0M381.4 171.1h0M381.7 162.3h0M382.1 153.3h0M382.5 146.9h0M382.9 141.3h0M383.3 136.4h0M383.6 132.9h0M384.0 131.0h0M384.4 129.4h0M384.8 127.9h0M385.2 126.5h0M385.5 125.3h0M385.9 124.3h0M386.3 123.4h0M386.7 122.6h0M387.1 122.1h0M387.4 121.7h0M387.8 121.5h0M388.2 121.5h0M388.6 121.8h0M389.0 122.4h0M389.3 123.2h0M389.7 124.3h0M390.1 125.6h0M390.5 127.0h0M390.9 128.6h0M391.2 130.4h0M391.6 132.2h0M392.0 134.2h0M392.4 136.2h0M392.8 138.3h0M393.1 141.2h0M393.5 144.9h0M393.9 148.9h0M394.3 153.4h0M394.7 158.7h0M395.0 164.4h0M395.4 169.7h0M395.8 174.1h0M396.2 177.4h0M396.6 180.7h0M396.9 183.8h0M397.3 186.6h0M397.7 188.9h0M398.1 190.6h0M398.5 191.4h0M398.8 191.5h0M399.2 191.5h0M399.6 191.4h0M400.0 191.3h0M400.4 191.1h0M400.7 191.0h0M401.1 190.8h0M401.5 190.6h0M401.9 190.3h0M402.3 190.1h0M402.6 189.8h0M403.0 189.5h0M403.4 189.2h0M403.8 188.9h0M404.2 188.5h0M404.5 188.1h0M404.9 187.8h0M405.3 187.4h0M405.7 187.0h0M406.1 186.6h0M406.4 186.2h0M406.8 185.8h0M407.2 185.3h0M407.6 184.9h0M408.0 184.5h0M408.3 184.1h0M408.7 183.7h0M409.1 183.3h0M409.5 182.9h0M409.9 182.5h0M410.2 182.1h0M410.6 181.7h0M411.0 181.3h0M411.4 181.0h0M411.8 180.6h0M412.1 180.3h0M412.5 180.0h0M412.9 179.7h0M413.3 179.4h0M413.7 179.2h0M414.0 179.0h0M414.4 178.8h0M414.8 178.6h0M415.2 178.5h0M415.6 178.4h0M415.9 178.3h0M416.3 178.2h0M416.7 178.2h0M417.1 178.2h0M417.5 178.4h0M417.8 178.6h0M418.2 178.8h0M418.6 179.1h0M419.0 179.5h0M419.4 179.9h0M419.7 180.3h0M420.1 180.7h0M420.5 181.2h0M420.9 181.6h0M421.3 182.1h0M421.6 182.6h0M422.0 183.0h0M422.4 183.4h0M422.8 183.8h0M423.2 184.1h0M423.5 184.4h0M423.9 184.6h0M424.3 184.8h0M424.7 184.9h0M425.1 184.9h0M425.4 184.8h0M425.8 184.6h0M426.2 184.3h0M426.6 184.0h0M427.0 183.5h0M427.3 183.0h0M427.7 182.4h0M428.1 181.8h0M428.5 181.1h0M428.9 180.3h0M429.2 179.6h0M429.6 178.7h0M430.0 177.9h0M430.4 177.0h0M430.8 176.1h0M431.1 175.2h0M431.5 174.3h0M431.9 173.5h0M432.3 172.6h0M432.7 171.7h0M433.0 170.9h0M433.4 170.0h0M433.8 169.2h0M434.2 168.5h0M434.6 167.8h0M434.9 167.2h0M435.3 166.6h0M435.7 166.0h0M436.1 165.6h0M436.5 165.2h0M436.8 164.9h0M437.2 164.7h0M437.6 164.6h0M438.0 164.6h0M438.4 164.7h0M438.7 165.0h0M439.1 165.3h0M439.5 165.8h0M439.9 166.3h0M440.3 166.9h0M440.6 167.6h0M441.0 168.4h0M441.4 169.2h0M441.8 170.1h0M442.2 171.0h0M442.5 171.9h0M442.9 172.9h0M443.3 173.8h0M443.7 174.8h0M444.1 175.8h0M444.4 176.7h0M444.8 177.7h0M445.2 178.6h0M445.6 179.4h0M446.0 180.3h0M446.3 181.0h0M446.7 181.7h0M447.1 182.4h0M447.5 182.9h0M447.9 183.4h0M448.2 183.7h0M448.6 184.0h0M449.0 184.1h0M449.4 184.1h0M449.8 184.0h0M450.1 183.9h0M450.5 183.8h0M450.9 183.6h0M451.3 183.3h0M451.7 183.1h0M452.0 182.8h0M452.4 182.6h0M452.8 182.3h0M453.2 182.1h0M453.6 181.9h0M453.9 181.7h0M454.3 181.6h0M454.7 181.5h0M455.1 181.5h0M455.5 181.6h0M455.8 181.8h0M456.2 182.2h0M456.6 182.6h0M457.0 183.2h0M457.4 183.8h0M457.7 184.4h0M458.1 185.1h0M458.5 185.8h0M458.9 186.5h0M459.3 187.2h0M459.6 187.9h0M460.0 188.6h0M460.4 189.2h0M460.8 189.7h0M461.2 190.1h0M461.5 190.4h0M461.9 190.6h0M462.3 190.7h0M462.7 190.6h0M463.1 190.3h0M463.4 189.7h0M463.8 189.0h0M464.2 188.1h0M464.6 187.1h0M465.0 185.9h0M465.3 184.5h0M465.7 183.0h0M466.1 181.5h0M466.5 179.8h0M466.9 178.0h0M467.2 176.1h0M467.6 174.2h0M468.0 172.2h0M468.4 170.2h0M468.8 168.2h0M469.1 166.1h0M469.5 164.1h0M469.9 162.0h0M470.3 160.0h0M470.7 158.0h0M471.0 156.1h0M471.4 154.2h0M471.8 152.4h0M472.2 150.7h0M472.6 149.0h0M472.9 147.5h0M473.3 146.1h0M473.7 144.9h0M474.1 143.8h0M474.5 142.8h0M474.8 142.1h0M475.2 141.5h0M475.6 141.1h0M476.0 140.9h0M476.4 141.0h0M476.7 141.3h0M477.1 141.8h0M477.5 142.6h0M477.9 143.6h0M478.3 144.7h0M478.6 146.1h0M479.0 147.6h0M479.4 149.2h0M479.8 151.0h0M480.2 152.8h0M480.5 154.8h0M480.9 156.8h0M481.3 158.9h0M481.7 161.1h0M482.1 163.2h0M482.4 165.4h0M482.8 167.5h0M483.2 169.7h0M483.6 171.8h0M484.0 173.8h0M484.3 175.8h0M484.7 177.6h0M485.1 179.4h0M485.5 181.0h0M485.9 182.5h0M486.2 183.9h0M486.6 185.0h0M487.0 186.0h0M487.4 186.8h0M487.8 187.3h0M488.1 187.6h0M488.5 187.7h0M488.9 187.6h0M489.3 187.5h0M489.7 187.3h0M490.0 187.1h0M490.4 186.8h0M490.8 186.4h0M491.2 186.0h0M491.6 185.5h0M491.9 185.0h0M492.3 184.4h0M492.7 183.8h0M493.1 183.2h0M493.5 182.5h0M493.8 181.8h0M494.2 181.1h0M494.6 180.3h0M495.0 179.5h0M495.4 178.7h0M495.7 177.9h0M496.1 177.1h0M496.5 176.2h0M496.9 175.4h0M497.3 174.5h0M497.6 173.7h0M498.0 172.8h0M498.4 172.0h0M498.8 171.2h0M499.2 170.4h0M499.5 169.6h0M499.9 168.8h0M500.3 168.0h0M500.7 167.3h0M501.1 166.6h0M501.4 165.9h0M501.8 165.2h0M502.2 164.6h0M502.6 164.0h0M503.0 163.5h0M503.3 163.0h0M503.7 162.6h0M504.1 162.2h0M504.5 161.9h0M504.9 161.6h0M505.2 161.4h0M505.6 161.3h0M506.0 161.2h0M506.4 161.2h0M506.8 161.3h0M507.1 161.4h0M507.5 161.7h0M507.9 161.9h0M508.3 162.3h0M508.7 162.7h0M509.0 163.2h0M509.4 163.7h0M509.8 164.3h0M510.2 164.9h0M510.6 165.5h0M510.9 166.2h0M511.3 167.0h0M511.7 167.7h0M512.1 168.5h0M512.5 169.3h0M512.8 170.2h0M513.2 171.0h0M513.6 171.9h0M514.0 172.8h0M514.4 173.7h0M514.7 174.5h0M515.1 175.4h0M515.5 176.3h0M515.9 177.2h0M516.3 178.1h0M516.6 178.9h0M517.0 179.7h0M517.4 180.6h0M517.8 181.3h0M518.2 182.1h0M518.5 182.8h0M518.9 183.5h0M519.3 184.2h0M519.7 184.8h0M520.1 185.3h0M520.4 185.8h0M520.8 186.3h0M521.2 186.7h0M521.6 187.0h0M522.0 187.3h0M522.3 187.5h0M522.7 187.6h0M523.1 187.7h0M523.5 187.7h0M523.9 187.5h0M524.2 187.1h0M524.6 186.7h0M525.0 186.1h0M525.4 185.4h0M525.8 184.6h0M526.1 183.7h0M526.5 182.7h0M526.9 181.7h0M527.3 180.6h0M527.7 179.4h0M528.0 178.2h0M528.4 177.0h0M528.8 175.7h0M529.2 174.4h0M529.6 173.2h0M529.9 171.9h0M530.3 170.7h0M530.7 169.4h0M531.1 168.3h0M531.5 167.1h0M531.8 166.1h0M532.2 165.1h0M532.6 164.1h0M533.0 163.3h0M533.4 162.6h0M533.7 161.9h0M534.1 161.4h0M534.5 161.0h0M534.9 160.8h0M535.3 160.7h0M535.6 160.7h0M536.0 160.9h0M536.4 161.1h0M536.8 161.5h0M537.2 161.9h0M537.5 162.4h0M537.9 163.0h0M538.3 163.6h0M538.7 164.3h0M539.1 165.1h0M539.4 165.9h0M539.8 166.7h0M540.2 167.6h0M540.6 168.6h0M541.0 169.5h0M541.3 170.5h0M541.7 171.5h0M542.1 172.5h0M542.5 173.5h0M542.9 174.4h0M543.2 175.4h0M543.6 176.4h0M544.0 177.3h0M544.4 178.3h0M544.8 179.1h0M545.1 180.0h0M545.5 180.8h0M545.9 181.5h0M546.3 182.2h0M546.7 182.9h0M547.0 183.4h0M547.4 183.9h0M547.8 184.3h0M548.2 184.6h0M548.6 184.9h0M548.9 185.0h0M549.3 185.0h0M549.7 184.9h0M550.1 184.7h0M550.5 184.4h0M550.8 184.0h0M551.2 183.5h0M551.6 182.9h0M552.0 182.3h0M552.4 181.7h0M552.7 181.0h0M553.1 180.2h0M553.5 179.5h0M553.9 178.7h0M554.3 178.0h0M554.6 177.2h0M555.0 176.5h0M555.4 175.8h0M555.8 175.2h0M556.2 174.6h0M556.5 174.0h0M556.9 173.6h0M557.3 173.2h0M557.7 172.9h0M558.1 172.7h0M558.4 172.6h0M558.8 172.6h0M559.2 172.7h0M559.6 172.8h0M560.0 172.9h0M560.3 173.1h0M560.7 173.3h0M561.1 173.5h0M561.5 173.7h0M561.9 174.0h0M562.2 174.3h0M562.6 174.7h0M563.0 175.0h0M563.4 175.4h0M563.8 175.8h0M564.1 176.1h0M564.5 176.5h0M564.9 177.0h0M565.3 177.4h0M565.7 177.8h0M566.0 178.2h0M566.4 178.7h0M566.8 179.1h0M567.2 179.5h0M567.6 179.9h0M567.9 180.3h0M568.3 180.7h0M568.7 181.1h0M569.1 181.5h0M569.5 181.8h0M569.8 182.2h0M570.2 182.5h0M570.6 182.8h0M571.0 183.0h0M571.4 183.3h0M571.7 183.5h0M572.1 183.7h0M572.5 183.8h0M572.9 183.9h0M573.3 184.0h0M573.6 184.0h0M574.0 183.9h0M574.4 183.6h0M574.8 183.1h0M575.2 182.4h0M575.5 181.5h0M575.9 180.5h0M576.3 179.3h0M576.7 178.0h0M577.1 176.6h0M577.4 175.1h0M577.8 173.5h0M578.2 171.9h0M578.6 170.2h0M579.0 168.5h0M579.3 166.8h0M579.7 165.1h0M580.1 163.4h0M580.5 161.7h0M580.9 160.1h0M581.2 158.6h0M581.6 157.2h0M582.0 155.8h0M582.4 154.6h0M582.8 153.5h0M583.1 152.6h0M583.5 151.9h0M583.9 151.3h0M584.3 150.9h0M584.7 150.8h0M585.0 150.8h0M585.4 151.0h0M585.8 151.2h0M586.2 151.6h0M586.6 152.0h0M586.9 152.5h0M587.3 153.1h0M587.7 153.8h0M588.1 154.5h0M588.5 155.3h0M588.8 156.2h0M589.2 157.1h0M589.6 158.0h0M590.0 159.0h0M590.4 160.0h0M590.7 161.1h0M591.1 162.2h0M591.5 163.3h0M591.9 164.4h0M592.3 165.6h0M592.6 166.7h0M593.0 167.9h0M593.4 169.0h0M593.8 170.1h0M594.2 171.3h0M594.5 172.4h0M594.9 173.4h0M595.3 174.5h0M595.7 175.5h0M596.1 176.4h0M596.4 177.4h0M596.8 178.2h0M597.2 179.1h0M597.6 179.8h0M598.0 180.5h0M598.3 181.1h0M598.7 181.6h0M599.1 182.1h0M599.5 182.5h0M599.9 182.7h0M600.2 182.9h0M600.6 183.0h0M601.0 183.0h0M601.4 182.9h0M601.8 182.7h0M602.1 182.5h0M602.5 182.3h0M602.9 182.0h0M603.3 181.6h0M603.7 181.2h0M604.0 180.9h0M604.4 180.4h0M604.8 180.0h0M605.2 179.6h0M605.6 179.2h0M605.9 178.8h0M606.3 178.4h0M606.7 178.0h0M607.1 177.7h0M607.5 177.4h0M607.8 177.1h0M608.2 176.9h0M608.6 176.7h0M609.0 176.6h0M609.4 176.6h0M609.7 176.7h0M610.1 176.9h0M610.5 177.2h0M610.9 177.5h0M611.3 178.0h0M611.6 178.4h0M612.0 178.9h0M612.4 179.4h0M612.8 179.9h0M613.2 180.3h0M613.5 180.7h0M613.9 181.0h0M614.3 181.2h0M614.7 181.3h0M615.1 181.3h0M615.4 181.2h0M615.8 181.0h0M616.2 180.7h0M616.6 180.3h0M617.0 179.9h0M617.3 179.4h0M617.7 178.8h0M618.1 178.2h0M618.5 177.6h0M618.9 176.9h0M619.2 176.2h0M619.6 175.5h0M620.0 174.7h0M620.4 174.0h0M620.8 173.3h0M621.1 172.6h0M621.5 171.9h0M621.9 171.2h0M622.3 170.6h0M622.7 170.0h0M623.0 169.4h0M623.4 169.0h0M623.8 168.5h0M624.2 168.2h0M624.6 167.9h0M624.9 167.7h0M625.3 167.6h0M625.7 167.6h0M626.1 167.7h0M626.5 167.8h0M626.8 167.9h0M627.2 168.1h0M627.6 168.4h0M628.0 168.7h0M628.4 169.0h0M628.7 169.3h0M629.1 169.7h0M629.5 170.1h0M629.9 170.5h0M630.3 171.0h0M630.6 171.4h0M631.0 171.8h0M631.4 172.3h0M631.8 172.8h0M632.2 173.2h0M632.5 173.6h0M632.9 174.1h0M633.3 174.5h0M633.7 174.9h0M634.1 175.3h0M634.4 175.6h0M634.8 175.9h0M635.2 176.2h0M635.6 176.5h0M636.0 176.7h0M636.3 176.8h0M636.7 176.9h0M637.1 177.0h0M637.5 177.0h0M637.9 177.0h0M638.2 176.9h0M638.6 176.8h0M639.0 176.7h0M639.4 176.6h0M639.8 176.4h0M640.1 176.2h0M640.5 176.0h0M640.9 175.8h0M641.3 175.6h0M641.7 175.3h0M642.0 175.1h0M642.4 174.9h0M642.8 174.6h0M643.2 174.3h0M643.6 174.1h0M643.9 173.8h0M644.3 173.6h0M644.7 173.4h0M645.1 173.2h0M645.5 172.9h0M645.8 172.7h0M646.2 172.6h0M646.6 172.4h0M647.0 172.3h0M647.4 172.2h0M647.7 172.1h0M648.1 172.0h0M648.5 172.0h0M648.9 172.0h0M649.3 172.0h0M649.6 172.1h0M650.0 172.2h0M650.4 172.3h0M650.8 172.5h0M651.2 172.7h0M651.5 172.9h0M651.9 173.1h0M652.3 173.3h0M652.7 173.6h0M653.1 173.9h0M653.4 174.2h0M653.8 174.5h0M654.2 174.9h0M654.6 175.3h0M655.0 175.6h0M655.3 176.0h0M655.7 176.4h0M656.1 176.8h0M656.5 177.3h0M656.6 177.4h0" stroke="#6a6a6a" stroke-width="2.4" stroke-linecap="round" fill="none"/>
<path d="M335.0 89.0L335.5 90.0L336.0 90.9L336.5 91.8L337.0 92.5L337.5 93.2L338.0 93.7L338.5 94.2L339.0 94.7L339.5 95.0L340.0 95.3L340.5 95.5L341.0 95.7L341.5 95.8L342.0 95.8L342.5 95.7L343.0 95.4L343.5 94.8L344.0 94.1L344.5 93.3L345.0 92.4L345.5 91.5L346.0 90.6L346.5 89.9L347.0 89.2L347.5 88.8L348.0 88.6L348.5 88.7L349.0 89.2L349.5 90.0L350.0 91.1L350.5 92.2L351.0 93.4L351.5 94.5L352.0 95.6L352.5 96.4L353.0 96.9L353.5 97.0L354.0 96.8L354.5 96.3L355.0 95.7L355.5 94.9L356.0 93.9L356.5 92.9L357.0 91.8L357.5 90.8L358.0 89.8L358.5 88.9L359.0 88.1L359.5 87.4L360.0 87.0L360.5 86.9L361.0 87.2L361.5 87.9L362.0 89.0L362.5 90.4L363.0 92.0L363.5 93.7L364.0 95.4L364.5 97.0L365.0 98.4L365.5 99.5L366.0 100.2L366.5 100.5L367.0 100.2L367.5 99.4L368.0 98.1L368.5 96.5L369.0 94.6L369.5 92.6L370.0 90.6L370.5 88.6L371.0 86.7L371.5 85.1L372.0 83.8L372.5 83.0L373.0 82.7L373.5 83.3L374.0 84.8L374.5 87.1L375.0 90.0L375.5 93.2L376.0 96.7L376.5 100.2L377.0 103.4L377.5 106.3L378.0 108.6L378.5 110.1L379.0 110.7L379.5 109.9L380.0 107.8L380.5 104.4L381.0 99.9L381.5 94.5L382.0 88.4L382.5 81.6L383.0 74.4L383.5 67.0L384.0 59.4L384.5 51.9L385.0 44.6L385.5 37.7L386.0 31.3L386.5 25.5L387.0 20.7L387.5 16.8L388.0 14.2L388.5 12.8L389.0 13.0L389.5 15.0L390.0 18.6L390.5 23.5L391.0 29.5L391.5 36.4L392.0 44.1L392.5 52.2L393.0 60.5L393.5 68.9L394.0 77.0L394.5 84.8L395.0 91.9L395.5 98.1L396.0 103.3L396.5 107.1L397.0 109.4L397.5 110.0L398.0 109.4L398.5 108.2L399.0 106.4L399.5 104.1L400.0 101.6L400.5 98.8L401.0 96.0L401.5 93.2L402.0 90.7L402.5 88.4L403.0 86.6L403.5 85.4L404.0 84.8L404.5 85.0L405.0 85.6L405.5 86.6L406.0 88.0L406.5 89.6L407.0 91.4L407.5 93.2L408.0 95.0L408.5 96.7L409.0 98.3L409.5 99.6L410.0 100.6L410.5 101.1L411.0 101.2L411.5 100.8L412.0 100.1L412.5 99.1L413.0 98.0L413.5 96.7L414.0 95.3L414.5 94.0L415.0 92.7L415.5 91.6L416.0 90.8L416.5 90.2L417.0 90.0L417.5 90.1L418.0 90.5L418.5 91.0L419.0 91.7L419.5 92.5L420.0 93.4L420.5 94.3L421.0 95.2L421.5 96.0L422.0 96.8L422.5 97.4L423.0 97.9L423.5 98.2L424.0 98.2L424.5 98.1L425.0 97.9L425.5 97.6L426.0 97.3L426.5 96.8L427.0 96.3L427.5 95.8L428.0 95.2L428.5 94.5L429.0 93.8L429.5 93.1L430.0 92.3L430.5 91.5L431.0 90.7L431.5 89.9L432.0 89.1L432.5 88.4L433.0 87.6L433.5 86.8L434.0 86.1L434.5 85.4L435.0 84.8L435.5 84.2L436.0 83.6L436.5 83.2L437.0 82.8L437.5 82.4L438.0 82.2L438.5 82.1L439.0 82.0L439.5 82.1L440.0 82.5L440.5 83.1L441.0 83.9L441.5 84.8L442.0 85.9L442.5 87.0L443.0 88.3L443.5 89.5L444.0 90.8L444.5 92.1L445.0 93.3L445.5 94.4L446.0 95.5L446.5 96.4L447.0 97.1L447.5 97.7L448.0 98.0L448.5 98.1L449.0 97.9L449.5 97.5L450.0 96.9L450.5 96.2L451.0 95.5L451.5 94.7L452.0 94.0L452.5 93.4L453.0 93.0L453.5 92.7L454.0 92.7L454.5 92.9L455.0 93.1L455.5 93.4L456.0 93.8L456.5 94.2L457.0 94.7L457.5 95.2L458.0 95.7L458.5 96.2L459.0 96.7L459.5 97.1L460.0 97.5L460.5 97.8L461.0 98.0L461.5 98.1L462.0 98.0L462.5 97.7L463.0 97.1L463.5 96.3L464.0 95.2L464.5 94.0L465.0 92.5L465.5 90.9L466.0 89.1L466.5 87.3L467.0 85.3L467.5 83.3L468.0 81.2L468.5 79.1L469.0 77.0L469.5 74.9L470.0 72.8L470.5 70.8L471.0 68.9L471.5 67.0L472.0 65.3L472.5 63.8L473.0 62.4L473.5 61.2L474.0 60.2L474.5 59.5L475.0 59.0L475.5 58.8L476.0 58.9L476.5 59.5L477.0 60.4L477.5 61.7L478.0 63.2L478.5 65.0L479.0 67.1L479.5 69.3L480.0 71.7L480.5 74.1L481.0 76.7L481.5 79.2L482.0 81.8L482.5 84.3L483.0 86.7L483.5 89.0L484.0 91.1L484.5 93.0L485.0 94.6L485.5 96.0L486.0 97.1L486.5 97.8L487.0 98.1L487.5 98.0L488.0 97.8L488.5 97.3L489.0 96.8L489.5 96.2L490.0 95.6L490.5 95.0L491.0 94.4L491.5 94.0L492.0 93.7L492.5 93.6L493.0 93.7L493.5 94.0L494.0 94.5L494.5 95.0L495.0 95.6L495.5 96.2L496.0 96.7L496.5 97.1L497.0 97.4L497.5 97.4L498.0 97.1L498.5 96.7L499.0 96.0L499.5 95.2L500.0 94.2L500.5 93.1L501.0 91.9L501.5 90.6L502.0 89.4L502.5 88.1L503.0 86.9L503.5 85.7L504.0 84.6L504.5 83.7L505.0 82.8L505.5 82.2L506.0 81.8L506.5 81.6L507.0 81.6L507.5 81.8L508.0 82.0L508.5 82.2L509.0 82.6L509.5 83.0L510.0 83.5L510.5 84.1L511.0 84.7L511.5 85.3L512.0 86.0L512.5 86.7L513.0 87.4L513.5 88.1L514.0 88.9L514.5 89.7L515.0 90.4L515.5 91.2L516.0 91.9L516.5 92.6L517.0 93.3L517.5 94.0L518.0 94.6L518.5 95.2L519.0 95.7L519.5 96.1L520.0 96.5L520.5 96.9L521.0 97.1L521.5 97.3L522.0 97.4L522.5 97.4L523.0 97.2L523.5 96.8L524.0 96.4L524.5 95.7L525.0 95.0L525.5 94.2L526.0 93.3L526.5 92.3L527.0 91.2L527.5 90.1L528.0 88.9L528.5 87.8L529.0 86.6L529.5 85.4L530.0 84.2L530.5 83.1L531.0 82.0L531.5 80.9L532.0 79.9L532.5 79.0L533.0 78.2L533.5 77.5L534.0 76.9L534.5 76.5L535.0 76.2L535.5 76.0L536.0 76.0L536.5 76.2L537.0 76.6L537.5 77.1L538.0 77.7L538.5 78.5L539.0 79.3L539.5 80.3L540.0 81.3L540.5 82.4L541.0 83.6L541.5 84.8L542.0 86.0L542.5 87.2L543.0 88.5L543.5 89.7L544.0 90.9L544.5 92.0L545.0 93.1L545.5 94.1L546.0 95.0L546.5 95.9L547.0 96.6L547.5 97.2L548.0 97.7L548.5 98.0L549.0 98.2L549.5 98.2L550.0 98.1L550.5 98.0L551.0 97.8L551.5 97.5L552.0 97.2L552.5 96.9L553.0 96.5L553.5 96.1L554.0 95.7L554.5 95.3L555.0 94.9L555.5 94.5L556.0 94.1L556.5 93.8L557.0 93.4L557.5 93.1L558.0 92.8L558.5 92.6L559.0 92.4L559.5 92.3L560.0 92.3L560.5 92.3L561.0 92.4L561.5 92.5L562.0 92.6L562.5 92.8L563.0 93.0L563.5 93.3L564.0 93.5L564.5 93.8L565.0 94.0L565.5 94.3L566.0 94.6L566.5 94.9L567.0 95.2L567.5 95.4L568.0 95.7L568.5 95.9L569.0 96.1L569.5 96.3L570.0 96.5L570.5 96.6L571.0 96.7L571.5 96.7L572.0 96.6L572.5 96.3L573.0 95.8L573.5 95.0L574.0 94.1L574.5 93.0L575.0 91.8L575.5 90.4L576.0 88.9L576.5 87.4L577.0 85.8L577.5 84.1L578.0 82.4L578.5 80.6L579.0 78.9L579.5 77.2L580.0 75.6L580.5 74.0L581.0 72.5L581.5 71.1L582.0 69.8L582.5 68.6L583.0 67.6L583.5 66.8L584.0 66.2L584.5 65.8L585.0 65.6L585.5 65.7L586.0 66.0L586.5 66.6L587.0 67.5L587.5 68.5L588.0 69.7L588.5 71.1L589.0 72.6L589.5 74.2L590.0 75.8L590.5 77.6L591.0 79.4L591.5 81.2L592.0 83.0L592.5 84.8L593.0 86.5L593.5 88.1L594.0 89.6L594.5 91.1L595.0 92.3L595.5 93.4L596.0 94.3L596.5 95.0L597.0 95.5L597.5 95.7L598.0 95.7L598.5 95.6L599.0 95.5L599.5 95.3L600.0 95.2L600.5 95.0L601.0 94.8L601.5 94.5L602.0 94.3L602.5 94.1L603.0 94.0L603.5 93.8L604.0 93.7L604.5 93.6L605.0 93.6L605.5 93.6L606.0 93.7L606.5 93.8L607.0 93.9L607.5 94.0L608.0 94.1L608.5 94.3L609.0 94.5L609.5 94.6L610.0 94.8L610.5 95.0L611.0 95.1L611.5 95.3L612.0 95.4L612.5 95.5L613.0 95.6L613.5 95.7L614.0 95.7L614.5 95.7L615.0 95.5L615.5 95.2L616.0 94.8L616.5 94.3L617.0 93.6L617.5 92.9L618.0 92.1L618.5 91.3L619.0 90.3L619.5 89.4L620.0 88.4L620.5 87.4L621.0 86.5L621.5 85.5L622.0 84.5L622.5 83.6L623.0 82.8L623.5 81.9L624.0 81.2L624.5 80.6L625.0 80.0L625.5 79.6L626.0 79.2L626.5 79.0L627.0 79.0L627.5 79.1L628.0 79.4L628.5 79.8L629.0 80.3L629.5 81.0L630.0 81.7L630.5 82.5L631.0 83.4L631.5 84.3L632.0 85.2L632.5 86.2L633.0 87.1L633.5 88.0L634.0 88.9L634.5 89.7L635.0 90.4L635.5 91.1L636.0 91.6L636.5 92.0L637.0 92.3L637.5 92.4L638.0 92.4L638.5 92.2L639.0 92.0L639.5 91.8L640.0 91.4L640.5 91.1L641.0 90.6L641.5 90.2L642.0 89.7L642.5 89.3L643.0 88.8L643.5 88.4L644.0 88.0L644.5 87.7L645.0 87.4L645.5 87.2L646.0 87.0L646.5 87.0L647.0 87.0L647.5 87.0L648.0 87.1L648.5 87.2L649.0 87.3L649.5 87.4L650.0 87.6L650.5 87.8L651.0 88.0L651.5 88.2L652.0 88.5L652.5 88.8L653.0 89.1L653.5 89.5L654.0 89.9L654.5 90.3L655.0 90.7L655.5 91.2L656.0 91.7L656.5 92.3L656.6 92.4" stroke="#d9a22b" stroke-width="2.6" fill="none" stroke-linejoin="round"/>
<path d="M335.0 174.5L335.5 175.6L336.0 176.5L336.5 177.4L337.0 178.2L337.5 178.9L338.0 179.5L338.5 180.0L339.0 180.5L339.5 180.8L340.0 181.0L340.5 181.2L341.0 181.2L341.5 181.0L342.0 180.7L342.5 180.1L343.0 179.5L343.5 178.8L344.0 178.1L344.5 177.3L345.0 176.6L345.5 176.0L346.0 175.6L346.5 175.3L347.0 175.2L347.5 175.4L348.0 175.7L348.5 176.3L349.0 177.0L349.5 177.7L350.0 178.6L350.5 179.4L351.0 180.2L351.5 181.0L352.0 181.6L352.5 182.1L353.0 182.5L353.5 182.6L354.0 182.5L354.5 182.1L355.0 181.5L355.5 180.7L356.0 179.8L356.5 178.8L357.0 177.9L357.5 176.9L358.0 175.9L358.5 175.1L359.0 174.5L359.5 174.0L360.0 173.7L360.5 173.8L361.0 174.2L361.5 174.9L362.0 175.8L362.5 176.9L363.0 178.2L363.5 179.5L364.0 180.8L364.5 182.1L365.0 183.3L365.5 184.3L366.0 185.0L366.5 185.5L367.0 185.6L367.5 185.2L368.0 184.4L368.5 183.3L369.0 181.9L369.5 180.3L370.0 178.5L370.5 176.8L371.0 175.2L371.5 173.7L372.0 172.4L372.5 171.4L373.0 170.9L373.5 170.9L374.0 171.6L374.5 173.1L375.0 175.0L375.5 177.4L376.0 180.1L376.5 182.9L377.0 185.6L377.5 188.2L378.0 190.4L378.5 192.2L379.0 193.4L379.5 193.8L380.0 193.1L380.5 191.0L381.0 187.9L381.5 183.7L382.0 178.7L382.5 173.0L383.0 166.8L383.5 160.3L384.0 153.7L384.5 147.0L385.0 140.5L385.5 134.3L386.0 128.6L386.5 123.6L387.0 119.4L387.5 116.3L388.0 114.2L388.5 113.5L389.0 114.2L389.5 116.1L390.0 119.2L390.5 123.2L391.0 128.0L391.5 133.4L392.0 139.4L392.5 145.6L393.0 152.1L393.5 158.6L394.0 165.0L394.5 171.1L395.0 176.7L395.5 181.8L396.0 186.1L396.5 189.6L397.0 192.0L397.5 193.2L398.0 193.2L398.5 192.4L399.0 191.1L399.5 189.3L400.0 187.1L400.5 184.8L401.0 182.3L401.5 179.9L402.0 177.6L402.5 175.6L403.0 173.9L403.5 172.8L404.0 172.3L404.5 172.4L405.0 173.0L405.5 173.8L406.0 174.9L406.5 176.2L407.0 177.6L407.5 179.1L408.0 180.6L408.5 182.0L409.0 183.2L409.5 184.3L410.0 185.1L410.5 185.5L411.0 185.6L411.5 185.3L412.0 184.7L412.5 184.0L413.0 183.0L413.5 182.0L414.0 180.9L414.5 179.9L415.0 178.9L415.5 178.0L416.0 177.3L416.5 176.9L417.0 176.7L417.5 176.8L418.0 177.1L418.5 177.6L419.0 178.2L419.5 178.9L420.0 179.7L420.5 180.5L421.0 181.3L421.5 182.1L422.0 182.8L422.5 183.4L423.0 183.9L423.5 184.2L424.0 184.4L424.5 184.4L425.0 184.2L425.5 183.9L426.0 183.6L426.5 183.1L427.0 182.6L427.5 182.0L428.0 181.3L428.5 180.6L429.0 179.8L429.5 179.0L430.0 178.2L430.5 177.3L431.0 176.5L431.5 175.6L432.0 174.8L432.5 173.9L433.0 173.1L433.5 172.4L434.0 171.7L434.5 171.0L435.0 170.4L435.5 169.9L436.0 169.4L436.5 169.1L437.0 168.9L437.5 168.7L438.0 168.7L438.5 168.9L439.0 169.2L439.5 169.7L440.0 170.4L440.5 171.1L441.0 172.0L441.5 172.9L442.0 173.9L442.5 174.9L443.0 175.9L443.5 176.9L444.0 177.9L444.5 178.9L445.0 179.8L445.5 180.6L446.0 181.4L446.5 182.0L447.0 182.4L447.5 182.8L448.0 182.9L448.5 182.9L449.0 182.8L449.5 182.6L450.0 182.4L450.5 182.1L451.0 181.8L451.5 181.5L452.0 181.2L452.5 180.9L453.0 180.7L453.5 180.4L454.0 180.2L454.5 180.1L455.0 180.0L455.5 180.0L456.0 180.1L456.5 180.3L457.0 180.6L457.5 180.9L458.0 181.2L458.5 181.6L459.0 182.0L459.5 182.4L460.0 182.7L460.5 183.0L461.0 183.3L461.5 183.5L462.0 183.6L462.5 183.6L463.0 183.3L463.5 182.8L464.0 182.1L464.5 181.1L465.0 180.0L465.5 178.7L466.0 177.2L466.5 175.6L467.0 173.9L467.5 172.0L468.0 170.1L468.5 168.2L469.0 166.2L469.5 164.2L470.0 162.2L470.5 160.2L471.0 158.3L471.5 156.4L472.0 154.6L472.5 152.9L473.0 151.4L473.5 150.0L474.0 148.7L474.5 147.6L475.0 146.8L475.5 146.1L476.0 145.7L476.5 145.6L477.0 145.8L477.5 146.4L478.0 147.3L478.5 148.5L479.0 150.0L479.5 151.8L480.0 153.7L480.5 155.9L481.0 158.1L481.5 160.5L482.0 162.9L482.5 165.3L483.0 167.8L483.5 170.2L484.0 172.5L484.5 174.8L485.0 176.9L485.5 178.8L486.0 180.5L486.5 181.9L487.0 183.1L487.5 184.0L488.0 184.5L488.5 184.6L489.0 184.3L489.5 183.8L490.0 183.0L490.5 182.2L491.0 181.3L491.5 180.6L492.0 180.1L492.5 179.9L493.0 180.0L493.5 180.3L494.0 180.8L494.5 181.3L495.0 181.9L495.5 182.4L496.0 182.9L496.5 183.3L497.0 183.6L497.5 183.6L498.0 183.3L498.5 182.9L499.0 182.2L499.5 181.4L500.0 180.4L500.5 179.3L501.0 178.2L501.5 176.9L502.0 175.7L502.5 174.4L503.0 173.2L503.5 172.0L504.0 171.0L504.5 170.0L505.0 169.2L505.5 168.6L506.0 168.2L506.5 168.0L507.0 168.0L507.5 168.1L508.0 168.3L508.5 168.6L509.0 169.0L509.5 169.4L510.0 169.8L510.5 170.3L511.0 170.9L511.5 171.5L512.0 172.1L512.5 172.8L513.0 173.5L513.5 174.2L514.0 174.9L514.5 175.6L515.0 176.4L515.5 177.1L516.0 177.8L516.5 178.5L517.0 179.1L517.5 179.7L518.0 180.3L518.5 180.9L519.0 181.4L519.5 181.8L520.0 182.2L520.5 182.5L521.0 182.7L521.5 182.9L522.0 183.0L522.5 183.0L523.0 182.8L523.5 182.4L524.0 181.9L524.5 181.3L525.0 180.6L525.5 179.7L526.0 178.8L526.5 177.7L527.0 176.7L527.5 175.5L528.0 174.4L528.5 173.2L529.0 172.0L529.5 170.8L530.0 169.7L530.5 168.5L531.0 167.5L531.5 166.4L532.0 165.5L532.5 164.6L533.0 163.9L533.5 163.3L534.0 162.8L534.5 162.4L535.0 162.2L535.5 162.2L536.0 162.4L536.5 162.7L537.0 163.1L537.5 163.6L538.0 164.3L538.5 165.1L539.0 165.9L539.5 166.9L540.0 167.9L540.5 168.9L541.0 170.0L541.5 171.2L542.0 172.3L542.5 173.5L543.0 174.6L543.5 175.8L544.0 176.9L544.5 177.9L545.0 178.9L545.5 179.9L546.0 180.7L546.5 181.5L547.0 182.2L547.5 182.7L548.0 183.1L548.5 183.4L549.0 183.6L549.5 183.6L550.0 183.5L550.5 183.5L551.0 183.3L551.5 183.2L552.0 183.0L552.5 182.7L553.0 182.5L553.5 182.2L554.0 182.0L554.5 181.7L555.0 181.4L555.5 181.1L556.0 180.7L556.5 180.4L557.0 180.1L557.5 179.8L558.0 179.6L558.5 179.3L559.0 179.1L559.5 178.8L560.0 178.6L560.5 178.5L561.0 178.3L561.5 178.3L562.0 178.2L562.5 178.2L563.0 178.2L563.5 178.3L564.0 178.4L564.5 178.6L565.0 178.8L565.5 178.9L566.0 179.2L566.5 179.4L567.0 179.6L567.5 179.9L568.0 180.1L568.5 180.3L569.0 180.5L569.5 180.8L570.0 180.9L570.5 181.1L571.0 181.3L571.5 181.4L572.0 181.5L572.5 181.5L573.0 181.4L573.5 181.1L574.0 180.5L574.5 179.7L575.0 178.6L575.5 177.4L576.0 176.0L576.5 174.5L577.0 172.8L577.5 171.0L578.0 169.2L578.5 167.4L579.0 165.5L579.5 163.7L580.0 161.9L580.5 160.2L581.0 158.5L581.5 157.0L582.0 155.6L582.5 154.4L583.0 153.4L583.5 152.6L584.0 152.1L584.5 151.8L585.0 151.8L585.5 152.1L586.0 152.5L586.5 153.2L587.0 154.0L587.5 155.0L588.0 156.1L588.5 157.3L589.0 158.7L589.5 160.1L590.0 161.6L590.5 163.1L591.0 164.7L591.5 166.4L592.0 168.0L592.5 169.6L593.0 171.2L593.5 172.7L594.0 174.2L594.5 175.6L595.0 176.9L595.5 178.1L596.0 179.1L596.5 180.0L597.0 180.8L597.5 181.4L598.0 181.7L598.5 181.9L599.0 181.9L599.5 181.8L600.0 181.7L600.5 181.6L601.0 181.4L601.5 181.2L602.0 181.0L602.5 180.8L603.0 180.6L603.5 180.4L604.0 180.2L604.5 180.1L605.0 180.0L605.5 179.9L606.0 179.9L606.5 179.9L607.0 180.0L607.5 180.1L608.0 180.2L608.5 180.4L609.0 180.5L609.5 180.7L610.0 180.9L610.5 181.1L611.0 181.2L611.5 181.4L612.0 181.5L612.5 181.6L613.0 181.7L613.5 181.8L614.0 181.8L614.5 181.7L615.0 181.5L615.5 181.2L616.0 180.7L616.5 180.2L617.0 179.6L617.5 179.0L618.0 178.2L618.5 177.4L619.0 176.6L619.5 175.8L620.0 174.9L620.5 174.0L621.0 173.1L621.5 172.2L622.0 171.3L622.5 170.5L623.0 169.7L623.5 168.9L624.0 168.2L624.5 167.6L625.0 167.1L625.5 166.6L626.0 166.2L626.5 166.0L627.0 165.8L627.5 165.8L628.0 165.9L628.5 166.2L629.0 166.6L629.5 167.1L630.0 167.7L630.5 168.4L631.0 169.1L631.5 169.9L632.0 170.7L632.5 171.6L633.0 172.4L633.5 173.3L634.0 174.1L634.5 174.8L635.0 175.5L635.5 176.1L636.0 176.7L636.5 177.1L637.0 177.5L637.5 177.7L638.0 177.7L638.5 177.6L639.0 177.5L639.5 177.4L640.0 177.1L640.5 176.9L641.0 176.6L641.5 176.2L642.0 175.9L642.5 175.5L643.0 175.2L643.5 174.8L644.0 174.4L644.5 174.1L645.0 173.8L645.5 173.5L646.0 173.3L646.5 173.1L647.0 173.0L647.5 172.9L648.0 172.9L648.5 172.9L649.0 173.0L649.5 173.1L650.0 173.3L650.5 173.5L651.0 173.7L651.5 174.0L652.0 174.3L652.5 174.6L653.0 174.9L653.5 175.3L654.0 175.7L654.5 176.2L655.0 176.6L655.5 177.1L656.0 177.6L656.5 178.2L656.6 178.3" stroke="#f42424" stroke-width="2.6" fill="none" stroke-linejoin="round"/>
<path d="M335.0 268.8L335.5 268.9L336.0 269.0L336.5 269.1L337.0 269.2L337.5 269.3L338.0 269.4L338.5 269.5L339.0 269.6L339.5 269.7L340.0 269.8L340.5 269.9L341.0 270.0L341.5 270.1L342.0 270.2L342.5 270.3L343.0 270.4L343.5 270.5L344.0 270.6L344.5 270.7L345.0 270.9L345.5 271.0L346.0 271.1L346.5 271.2L347.0 271.3L347.5 271.5L348.0 271.6L348.5 271.7L349.0 271.8L349.5 271.9L350.0 272.1L350.5 272.2L351.0 272.3L351.5 272.5L352.0 272.6L352.5 272.7L353.0 272.8L353.5 273.0L354.0 273.1L354.5 273.3L355.0 273.4L355.5 273.5L356.0 273.7L356.5 273.8L357.0 274.0L357.5 274.1L358.0 274.3L358.5 274.4L359.0 274.6L359.5 274.8L360.0 274.9L360.5 275.1L361.0 275.3L361.5 275.4L362.0 275.7L362.5 275.9L363.0 276.2L363.5 276.4L364.0 276.7L364.5 277.0L365.0 277.2L365.5 277.4L366.0 277.6L366.5 277.8L367.0 277.9L367.5 277.9L368.0 277.9L368.5 277.7L369.0 277.3L369.5 276.9L370.0 276.3L370.5 275.7L371.0 274.9L371.5 274.0L372.0 273.1L372.5 272.0L373.0 270.9L373.5 269.8L374.0 268.6L374.5 267.2L375.0 265.0L375.5 262.0L376.0 258.4L376.5 254.4L377.0 249.9L377.5 245.3L378.0 240.6L378.5 235.9L379.0 231.4L379.5 227.2L380.0 223.5L380.5 220.3L381.0 217.7L381.5 215.1L382.0 212.4L382.5 209.8L383.0 207.2L383.5 204.6L384.0 202.2L384.5 199.8L385.0 197.6L385.5 195.6L386.0 193.7L386.5 192.1L387.0 190.7L387.5 189.6L388.0 188.8L388.5 188.3L389.0 188.2L389.5 188.5L390.0 189.1L390.5 190.1L391.0 191.4L391.5 193.0L392.0 194.8L392.5 196.8L393.0 199.0L393.5 201.3L394.0 203.8L394.5 206.3L395.0 208.9L395.5 211.6L396.0 214.2L396.5 216.7L397.0 219.2L397.5 221.9L398.0 225.0L398.5 228.4L399.0 232.0L399.5 235.8L400.0 239.7L400.5 243.6L401.0 247.3L401.5 250.9L402.0 254.2L402.5 257.2L403.0 259.6L403.5 261.6L404.0 263.2L404.5 264.8L405.0 266.2L405.5 267.6L406.0 268.9L406.5 270.1L407.0 271.2L407.5 272.3L408.0 273.2L408.5 274.1L409.0 274.9L409.5 275.6L410.0 276.2L410.5 276.7L411.0 277.3L411.5 277.8L412.0 278.3L412.5 278.8L413.0 279.2L413.5 279.6L414.0 279.9L414.5 280.1L415.0 280.3L415.5 280.3L416.0 280.3L416.5 280.1L417.0 280.0L417.5 279.8L418.0 279.5L418.5 279.2L419.0 278.8L419.5 278.4L420.0 278.0L420.5 277.5L421.0 277.0L421.5 276.4L422.0 275.8L422.5 275.2L423.0 274.6L423.5 273.9L424.0 273.3L424.5 272.6L425.0 271.9L425.5 271.2L426.0 270.5L426.5 269.8L427.0 269.1L427.5 268.4L428.0 267.7L428.5 267.1L429.0 266.4L429.5 265.7L430.0 265.1L430.5 264.5L431.0 263.9L431.5 263.4L432.0 262.8L432.5 262.3L433.0 261.9L433.5 261.5L434.0 261.1L434.5 260.8L435.0 260.5L435.5 260.3L436.0 260.1L436.5 260.0L437.0 259.9L437.5 259.9L438.0 260.0L438.5 260.1L439.0 260.4L439.5 260.6L440.0 261.0L440.5 261.4L441.0 261.8L441.5 262.3L442.0 262.8L442.5 263.4L443.0 264.0L443.5 264.6L444.0 265.3L444.5 266.0L445.0 266.7L445.5 267.4L446.0 268.1L446.5 268.8L447.0 269.6L447.5 270.3L448.0 271.0L448.5 271.8L449.0 272.5L449.5 273.1L450.0 273.8L450.5 274.5L451.0 275.1L451.5 275.7L452.0 276.2L452.5 276.7L453.0 277.2L453.5 277.6L454.0 277.9L454.5 278.2L455.0 278.5L455.5 278.7L456.0 278.8L456.5 278.8L457.0 278.7L457.5 278.5L458.0 278.0L458.5 277.5L459.0 276.8L459.5 275.9L460.0 275.0L460.5 273.9L461.0 272.7L461.5 271.4L462.0 270.1L462.5 268.6L463.0 267.1L463.5 265.5L464.0 263.9L464.5 262.2L465.0 260.5L465.5 258.7L466.0 256.9L466.5 255.2L467.0 253.4L467.5 251.6L468.0 249.8L468.5 248.1L469.0 246.4L469.5 244.7L470.0 243.1L470.5 241.6L471.0 240.1L471.5 238.7L472.0 237.4L472.5 236.2L473.0 235.0L473.5 234.0L474.0 233.1L474.5 232.4L475.0 231.8L475.5 231.3L476.0 231.0L476.5 230.8L477.0 230.8L477.5 231.0L478.0 231.3L478.5 231.7L479.0 232.3L479.5 233.0L480.0 233.8L480.5 234.7L481.0 235.7L481.5 236.8L482.0 238.0L482.5 239.2L483.0 240.5L483.5 241.8L484.0 243.2L484.5 244.6L485.0 246.1L485.5 247.6L486.0 249.1L486.5 250.5L487.0 252.0L487.5 253.5L488.0 255.0L488.5 256.4L489.0 257.8L489.5 259.1L490.0 260.4L490.5 261.6L491.0 262.8L491.5 263.9L492.0 264.9L492.5 265.8L493.0 266.6L493.5 267.3L494.0 267.9L494.5 268.3L495.0 268.6L495.5 268.8L496.0 268.8L496.5 268.7L497.0 268.6L497.5 268.4L498.0 268.1L498.5 267.8L499.0 267.5L499.5 267.1L500.0 266.7L500.5 266.3L501.0 265.9L501.5 265.4L502.0 265.0L502.5 264.6L503.0 264.2L503.5 263.8L504.0 263.5L504.5 263.2L505.0 263.0L505.5 262.8L506.0 262.7L506.5 262.6L507.0 262.6L507.5 262.7L508.0 262.8L508.5 263.0L509.0 263.2L509.5 263.5L510.0 263.8L510.5 264.2L511.0 264.5L511.5 264.9L512.0 265.3L512.5 265.7L513.0 266.1L513.5 266.5L514.0 267.0L514.5 267.4L515.0 267.8L515.5 268.1L516.0 268.5L516.5 268.8L517.0 269.1L517.5 269.4L518.0 269.6L518.5 269.7L519.0 269.8L519.5 269.9L520.0 269.9L520.5 269.8L521.0 269.6L521.5 269.3L522.0 269.0L522.5 268.6L523.0 268.1L523.5 267.6L524.0 267.0L524.5 266.4L525.0 265.7L525.5 265.0L526.0 264.3L526.5 263.5L527.0 262.8L527.5 262.0L528.0 261.2L528.5 260.4L529.0 259.6L529.5 258.9L530.0 258.1L530.5 257.4L531.0 256.7L531.5 256.1L532.0 255.5L532.5 254.9L533.0 254.4L533.5 254.0L534.0 253.6L534.5 253.3L535.0 253.0L535.5 252.9L536.0 252.8L536.5 252.8L537.0 252.9L537.5 253.0L538.0 253.1L538.5 253.3L539.0 253.5L539.5 253.7L540.0 254.0L540.5 254.2L541.0 254.6L541.5 254.9L542.0 255.3L542.5 255.7L543.0 256.1L543.5 256.5L544.0 257.0L544.5 257.4L545.0 257.9L545.5 258.4L546.0 258.9L546.5 259.4L547.0 259.9L547.5 260.4L548.0 260.9L548.5 261.5L549.0 262.0L549.5 262.5L550.0 263.0L550.5 263.5L551.0 264.0L551.5 264.5L552.0 265.0L552.5 265.5L553.0 265.9L553.5 266.4L554.0 266.8L554.5 267.2L555.0 267.6L555.5 267.9L556.0 268.3L556.5 268.6L557.0 268.9L557.5 269.1L558.0 269.3L558.5 269.5L559.0 269.7L559.5 269.8L560.0 269.9L560.5 269.9L561.0 269.9L561.5 269.8L562.0 269.7L562.5 269.5L563.0 269.3L563.5 269.0L564.0 268.7L564.5 268.3L565.0 267.9L565.5 267.4L566.0 266.9L566.5 266.4L567.0 265.8L567.5 265.2L568.0 264.6L568.5 263.9L569.0 263.3L569.5 262.6L570.0 261.9L570.5 261.2L571.0 260.4L571.5 259.7L572.0 258.9L572.5 258.2L573.0 257.4L573.5 256.7L574.0 255.9L574.5 255.2L575.0 254.4L575.5 253.7L576.0 253.0L576.5 252.3L577.0 251.6L577.5 251.0L578.0 250.3L578.5 249.7L579.0 249.1L579.5 248.6L580.0 248.1L580.5 247.6L581.0 247.2L581.5 246.8L582.0 246.4L582.5 246.1L583.0 245.9L583.5 245.7L584.0 245.5L584.5 245.4L585.0 245.4L585.5 245.4L586.0 245.5L586.5 245.6L587.0 245.8L587.5 246.0L588.0 246.3L588.5 246.5L589.0 246.9L589.5 247.2L590.0 247.6L590.5 248.1L591.0 248.5L591.5 249.0L592.0 249.5L592.5 250.0L593.0 250.6L593.5 251.1L594.0 251.7L594.5 252.3L595.0 252.9L595.5 253.5L596.0 254.2L596.5 254.8L597.0 255.4L597.5 256.1L598.0 256.7L598.5 257.3L599.0 258.0L599.5 258.6L600.0 259.2L600.5 259.8L601.0 260.4L601.5 260.9L602.0 261.5L602.5 262.0L603.0 262.5L603.5 263.0L604.0 263.4L604.5 263.9L605.0 264.3L605.5 264.6L606.0 265.0L606.5 265.2L607.0 265.5L607.5 265.7L608.0 265.9L608.5 266.0L609.0 266.1L609.5 266.1L610.0 266.1L610.5 266.0L611.0 265.9L611.5 265.8L612.0 265.6L612.5 265.4L613.0 265.2L613.5 264.9L614.0 264.7L614.5 264.4L615.0 264.1L615.5 263.8L616.0 263.5L616.5 263.2L617.0 262.8L617.5 262.5L618.0 262.2L618.5 261.9L619.0 261.6L619.5 261.3L620.0 261.1L620.5 260.8L621.0 260.6L621.5 260.4L622.0 260.2L622.5 260.1L623.0 260.0L623.5 259.9L624.0 259.9L624.5 259.9L625.0 260.0L625.5 260.0L626.0 260.1L626.5 260.2L627.0 260.3L627.5 260.4L628.0 260.5L628.5 260.6L629.0 260.7L629.5 260.8L630.0 260.9L630.5 261.0L631.0 261.1L631.5 261.2L632.0 261.2L632.5 261.2L633.0 261.2L633.5 261.2L634.0 261.2L634.5 261.2L635.0 261.2L635.5 261.2L636.0 261.2L636.5 261.2L637.0 261.2L637.5 261.2L638.0 261.1L638.5 261.1L639.0 261.1L639.5 261.1L640.0 261.1L640.5 261.1L641.0 261.0L641.5 261.0L642.0 261.0L642.5 260.9L643.0 260.9L643.5 260.9L644.0 260.8L644.5 260.8L645.0 260.7L645.5 260.7L646.0 260.6L646.5 260.6L647.0 260.5L647.5 260.5L648.0 260.4L648.5 260.3L649.0 260.2L649.5 260.2L650.0 260.1L650.5 260.0L651.0 259.9L651.5 259.8L652.0 259.7L652.5 259.6L653.0 259.5L653.5 259.4L654.0 259.2L654.5 259.1L655.0 259.0L655.5 258.8L656.0 258.7L656.5 258.5L656.6 258.5" stroke="#3a9a22" stroke-width="2.6" fill="none" stroke-linejoin="round"/>
<path d="M31.5 289.0H36M27.4 268.9H36M31.5 248.3H36M31.5 227.8H36M31.5 207.2H36M31.5 186.7H36M27.4 166.1H36M31.5 145.5H36M31.5 125.0H36M31.5 104.4H36M31.5 83.9H36M27.4 63.3H36M31.5 42.7H36M31.5 22.2H36M31.5 2.0H36M40.1 289V297.4M63.3 289V293.8M86.5 289V297.4M109.7 289V293.8M132.8 289V297.4M156.0 289V293.8M179.2 289V297.4M202.4 289V293.8M225.6 289V297.4M248.8 289V293.8M271.9 289V297.4M295.1 289V293.8M318.3 289V297.4M334.0 289V292.9M355.5 289V296.9M377.0 289V292.9M398.6 289V296.9M420.1 289V292.9M441.6 289V296.9M463.2 289V292.9M484.7 289V296.9M506.2 289V292.9M527.8 289V296.9M549.3 289V292.9M570.9 289V296.9M592.4 289V292.9M613.9 289V296.9M635.5 289V292.9M657.0 289V296.9M369.9 49.7V77.7" stroke="#000" stroke-width="2" fill="none"/>
<rect x="36" y="2" width="287" height="287" stroke="#000" stroke-width="2" fill="none"/>
<rect x="334" y="2" width="323" height="287" stroke="#000" stroke-width="2" fill="none"/>
<circle cx="253" cy="15.2" r="1.7" fill="#f0dc98"/>
<path d="M236 32H270" stroke="#d9a22b" stroke-width="3" stroke-linecap="round"/>
<circle cx="613.1" cy="20" r="1.1" fill="#555"/>
<path d="M596.4 36.7H629.7" stroke="#d9a22b" stroke-width="2.4"/>
<g font-family="Liberation Sans, sans-serif">
<text x="41.4" y="25" font-size="18" fill="#000" font-weight="bold" text-anchor="start" textLength="15.5" lengthAdjust="spacingAndGlyphs" >a)</text>
<text x="339.8" y="26.7" font-size="18" fill="#000" font-weight="bold" text-anchor="start" textLength="16.3" lengthAdjust="spacingAndGlyphs" >b)</text>
<text x="21.7" y="274.2" font-size="15" fill="#000" font-weight="normal" text-anchor="end" >0.0</text>
<text x="21.5" y="68.9" font-size="15" fill="#000" font-weight="normal" text-anchor="end" >1.0</text>
<text x="40.1" y="315.6" font-size="15" fill="#000" font-weight="normal" text-anchor="middle" >0</text>
<text x="86.5" y="315.6" font-size="15" fill="#000" font-weight="normal" text-anchor="middle" >100</text>
<text x="132.8" y="315.6" font-size="15" fill="#000" font-weight="normal" text-anchor="middle" >200</text>
<text x="179.2" y="315.6" font-size="15" fill="#000" font-weight="normal" text-anchor="middle" >300</text>
<text x="225.6" y="315.6" font-size="15" fill="#000" font-weight="normal" text-anchor="middle" >400</text>
<text x="271.9" y="315.6" font-size="15" fill="#000" font-weight="normal" text-anchor="middle" >500</text>
<text x="318.3" y="315.6" font-size="15" fill="#000" font-weight="normal" text-anchor="middle" >600</text>
<text x="355.5" y="315.7" font-size="15" fill="#000" font-weight="normal" text-anchor="middle" >2</text>
<text x="398.6" y="315.7" font-size="15" fill="#000" font-weight="normal" text-anchor="middle" >3</text>
<text x="441.6" y="315.7" font-size="15" fill="#000" font-weight="normal" text-anchor="middle" >4</text>
<text x="484.7" y="315.7" font-size="15" fill="#000" font-weight="normal" text-anchor="middle" >5</text>
<text x="527.8" y="315.7" font-size="15" fill="#000" font-weight="normal" text-anchor="middle" >6</text>
<text x="570.9" y="315.7" font-size="15" fill="#000" font-weight="normal" text-anchor="middle" >7</text>
<text x="613.9" y="315.7" font-size="15" fill="#000" font-weight="normal" text-anchor="middle" >8</text>
<text x="657.0" y="315.7" font-size="15" fill="#000" font-weight="normal" text-anchor="middle" >9</text>
<text x="130.8" y="333.2" font-size="14" fill="#000" font-weight="normal" text-anchor="start" textLength="100.6" lengthAdjust="spacingAndGlyphs" >Time (seconds)</text>
<text x="494.2" y="330.3" font-size="14.5" fill="#000" font-weight="normal" text-anchor="start" textLength="34.4" lengthAdjust="spacingAndGlyphs" >R (Å)</text>
<text transform="translate(18 233.5) rotate(-90)" font-size="14.5" textLength="140.5" lengthAdjust="spacingAndGlyphs">Pt-Pt norm. intensity</text>
<text transform="translate(680.8 191.3) rotate(-90)" font-size="16.5">ΔG (Å<tspan font-size="11" dy="-8.5">-2</tspan><tspan dy="8.5">)</tspan></text>
<text x="271.6" y="19.6" font-size="12.5" fill="#000" font-weight="normal" text-anchor="start" textLength="19.4" lengthAdjust="spacingAndGlyphs" >exp</text>
<text x="271.6" y="36.4" font-size="12.5" fill="#000" font-weight="normal" text-anchor="start" textLength="41" lengthAdjust="spacingAndGlyphs" >smooth</text>
<text x="632.0" y="24.4" font-size="12.5" fill="#000" font-weight="normal" text-anchor="start" textLength="19" lengthAdjust="spacingAndGlyphs" >exp</text>
<text x="632.0" y="40.8" font-size="12.5" fill="#000" font-weight="normal" text-anchor="start" textLength="11" lengthAdjust="spacingAndGlyphs" >fit</text>
<text x="118.8" y="51" font-size="13.5" fill="#d9a22b" font-weight="bold" text-anchor="start" textLength="21" lengthAdjust="spacingAndGlyphs" >gas</text>
<text x="631.2" y="103.9" font-size="13.5" fill="#d9a22b" font-weight="bold" text-anchor="start" textLength="21" lengthAdjust="spacingAndGlyphs" >gas</text>
<text x="281.8" y="86.7" font-size="13.5" fill="#fa1e1e" font-weight="bold" text-anchor="start" textLength="35" lengthAdjust="spacingAndGlyphs" >liquid</text>
<text x="617.3" y="194.3" font-size="12.5" fill="#fa1e1e" font-weight="bold" text-anchor="start" textLength="34.6" lengthAdjust="spacingAndGlyphs" >liquid</text>
<text x="348.4" y="64.2" font-size="11.5" fill="#000" font-weight="normal" text-anchor="start" textLength="17.2" lengthAdjust="spacingAndGlyphs" >1.0</text>
<text x="180.6" y="267.3" font-size="16" fill="#3a9a22" font-weight="bold" textLength="115.5" lengthAdjust="spacingAndGlyphs">Pt<tspan font-size="11" dy="3.5">55</tspan><tspan dy="-3.5">H</tspan><tspan font-size="11" dy="3.5">91</tspan><tspan dy="-3.5">/γ-Al</tspan><tspan font-size="11" dy="3.5">2</tspan><tspan dy="-3.5">O</tspan><tspan font-size="11" dy="3.5">3</tspan></text>
<text x="608" y="253.3" font-size="12.5" fill="#3a9a22" font-weight="bold" textLength="43" lengthAdjust="spacingAndGlyphs">Pt<tspan font-size="9">55</tspan>H<tspan font-size="9">91</tspan></text>
</g>
</svg></body></html>
